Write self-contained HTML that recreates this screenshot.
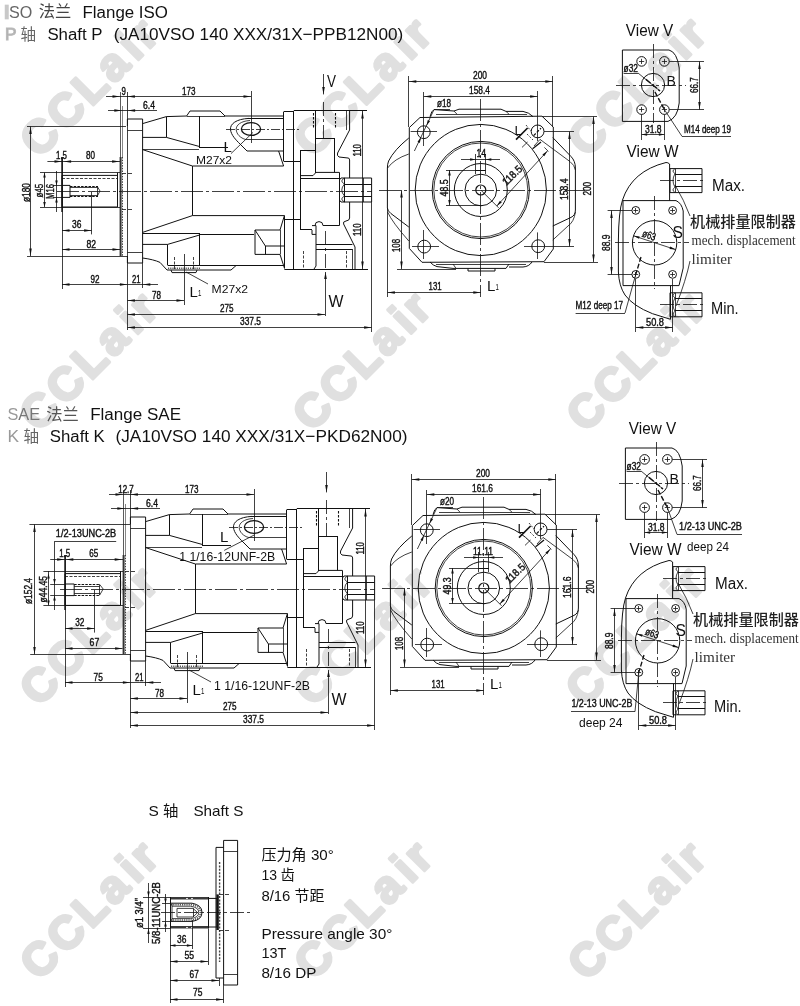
<!DOCTYPE html>
<html lang="zh"><head><meta charset="utf-8"><title>JA10VSO 140 Flange ISO / SAE</title>
<style>
html,body{margin:0;padding:0;background:#fff}
body{width:800px;height:1006px;overflow:hidden;position:relative;font-family:"Liberation Sans","Noto Sans CJK SC",sans-serif}
svg{position:absolute;left:0;top:0;display:block;opacity:.999;will-change:opacity}
text{white-space:pre}
.a{font-family:"Liberation Sans","Noto Sans CJK SC",sans-serif}
.d{font-family:"Liberation Sans","Noto Sans CJK SC",sans-serif;stroke:#111;stroke-width:.4px}
.m{font-family:"Liberation Mono","Noto Sans CJK SC",monospace}
.c{font-family:"Liberation Sans","Noto Sans CJK SC",sans-serif}
.wm{font-family:"Liberation Sans",sans-serif;font-weight:bold;fill:#e0e0e0}
</style></head><body>
<svg width="800" height="1006" viewBox="0 0 800 1006">
<g>
<text class="wm" x="39.0" y="159.2" font-size="46" letter-spacing="3.7" stroke="#e0e0e0" stroke-width="3" stroke-linejoin="round" transform="rotate(-45 39.0 159.2)">CCLa<tspan dx="2.6">ir</tspan></text>
<text class="wm" x="312.4" y="158.8" font-size="46" letter-spacing="3.7" stroke="#e0e0e0" stroke-width="3" stroke-linejoin="round" transform="rotate(-45 312.4 158.8)">CCLa<tspan dx="2.6">ir</tspan></text>
<text class="wm" x="587.1" y="158.4" font-size="46" letter-spacing="3.7" stroke="#e0e0e0" stroke-width="3" stroke-linejoin="round" transform="rotate(-45 587.1 158.4)">CCLa<tspan dx="2.6">ir</tspan></text>
<text class="wm" x="38.6" y="433.2" font-size="46" letter-spacing="3.7" stroke="#e0e0e0" stroke-width="3" stroke-linejoin="round" transform="rotate(-45 38.6 433.2)">CCLa<tspan dx="2.6">ir</tspan></text>
<text class="wm" x="311.7" y="432.9" font-size="46" letter-spacing="3.7" stroke="#e0e0e0" stroke-width="3" stroke-linejoin="round" transform="rotate(-45 311.7 432.9)">CCLa<tspan dx="2.6">ir</tspan></text>
<text class="wm" x="585.4" y="433.7" font-size="46" letter-spacing="3.7" stroke="#e0e0e0" stroke-width="3" stroke-linejoin="round" transform="rotate(-45 585.4 433.7)">CCLa<tspan dx="2.6">ir</tspan></text>
<text class="wm" x="38.7" y="707.7" font-size="46" letter-spacing="3.7" stroke="#e0e0e0" stroke-width="3" stroke-linejoin="round" transform="rotate(-45 38.7 707.7)">CCLa<tspan dx="2.6">ir</tspan></text>
<text class="wm" x="312.9" y="707.7" font-size="46" letter-spacing="3.7" stroke="#e0e0e0" stroke-width="3" stroke-linejoin="round" transform="rotate(-45 312.9 707.7)">CCLa<tspan dx="2.6">ir</tspan></text>
<text class="wm" x="584.8" y="707.7" font-size="46" letter-spacing="3.7" stroke="#e0e0e0" stroke-width="3" stroke-linejoin="round" transform="rotate(-45 584.8 707.7)">CCLa<tspan dx="2.6">ir</tspan></text>
<text class="wm" x="39.1" y="981.8" font-size="46" letter-spacing="3.7" stroke="#e0e0e0" stroke-width="3" stroke-linejoin="round" transform="rotate(-45 39.1 981.8)">CCLa<tspan dx="2.6">ir</tspan></text>
<text class="wm" x="313.3" y="981.8" font-size="46" letter-spacing="3.7" stroke="#e0e0e0" stroke-width="3" stroke-linejoin="round" transform="rotate(-45 313.3 981.8)">CCLa<tspan dx="2.6">ir</tspan></text>
<text class="wm" x="586.8" y="982.3" font-size="46" letter-spacing="3.7" stroke="#e0e0e0" stroke-width="3" stroke-linejoin="round" transform="rotate(-45 586.8 982.3)">CCLa<tspan dx="2.6">ir</tspan></text>
</g>
<text class="a" x="4.60" y="17.60" font-size="17.3" fill="#111" textLength="27.8" lengthAdjust="spacingAndGlyphs"><tspan fill="#b8b8b8" stroke="#c8c8c8" stroke-width="2.6">I</tspan><tspan fill="#666">SO</tspan></text>
<text class="a" x="38.80" y="17.40" font-size="16.4" fill="#444" textLength="32.6" lengthAdjust="spacingAndGlyphs">法兰</text>
<text class="a" x="82.50" y="17.60" font-size="17.3" fill="#111" textLength="85.5" lengthAdjust="spacingAndGlyphs">Flange ISO</text>
<text class="a" x="5" y="40" font-size="17.3" fill="#aaa" stroke="#bbb" stroke-width="1">P</text>
<text class="a" x="20.60" y="40.00" font-size="15.6" fill="#666">轴</text>
<text class="a" x="47.40" y="40.00" font-size="17.3" fill="#111" textLength="55.2" lengthAdjust="spacingAndGlyphs">Shaft P</text>
<text class="a" x="113.80" y="40.00" font-size="17.3" fill="#111" textLength="289.4" lengthAdjust="spacingAndGlyphs">(JA10VSO 140 XXX/31X−PPB12N00)</text>
<text class="a" x="7.40" y="420.00" font-size="17.3" fill="#111" textLength="32.6" lengthAdjust="spacingAndGlyphs"><tspan fill="#999">S</tspan><tspan fill="#777">AE</tspan></text>
<text class="a" x="46.20" y="419.60" font-size="16.4" fill="#555" textLength="32.6" lengthAdjust="spacingAndGlyphs">法兰</text>
<text class="a" x="90.20" y="420.00" font-size="17.3" fill="#111" textLength="90.8" lengthAdjust="spacingAndGlyphs">Flange SAE</text>
<text class="a" x="7.4" y="441.9" font-size="17.3" fill="#999">K</text>
<text class="a" x="23.60" y="441.80" font-size="15.6" fill="#666">轴</text>
<text class="a" x="49.80" y="441.90" font-size="17.3" fill="#111" textLength="55.0" lengthAdjust="spacingAndGlyphs">Shaft K</text>
<text class="a" x="115.50" y="441.90" font-size="17.3" fill="#111" textLength="292.0" lengthAdjust="spacingAndGlyphs">(JA10VSO 140 XXX/31X−PKD62N00)</text>
<g transform="translate(0,0)">
<path d="M127.40 256.00 L127.40 263.00 L142.60 263.00" fill="none" stroke="#111" stroke-width="1.0"/>
<path d="M127.40 126.00 L127.40 119.00 L142.60 119.00 L142.60 263.00" fill="none" stroke="#111" stroke-width="1.0"/>
<line x1="127.50" y1="92.00" x2="127.50" y2="330.00" stroke="#111" stroke-width="0.8"/>
<line x1="127.40" y1="130.50" x2="142.60" y2="130.50" stroke="#111" stroke-width="0.8"/>
<line x1="127.40" y1="252.50" x2="142.60" y2="252.50" stroke="#111" stroke-width="0.8"/>
<line x1="120.60" y1="157.00" x2="120.60" y2="256.00" stroke="#333" stroke-width="2.0"/>
<line x1="122.50" y1="157.00" x2="122.50" y2="256.00" stroke="#111" stroke-width="0.8" stroke-dasharray="1.5 1.2"/>
<line x1="120.50" y1="92.00" x2="120.50" y2="157.00" stroke="#333" stroke-width="0.8"/>
<line x1="122.50" y1="106.00" x2="122.50" y2="157.00" stroke="#555" stroke-width="0.7"/>
<line x1="122.00" y1="173.50" x2="134.00" y2="173.50" stroke="#111" stroke-width="0.8" stroke-dasharray="4 2"/>
<line x1="122.00" y1="209.50" x2="134.00" y2="209.50" stroke="#111" stroke-width="0.8" stroke-dasharray="4 2"/>
<path d="M142.60 123.60 L166.40 116.60 L186.60 116.00 L190.00 111.00 L220.00 111.00 L225.00 116.00 L283.60 116.00" fill="none" stroke="#111" stroke-width="1.0"/>
<line x1="166.50" y1="116.60" x2="166.50" y2="137.40" stroke="#111" stroke-width="1.0"/>
<line x1="186.60" y1="116.50" x2="225.00" y2="116.50" stroke="#111" stroke-width="0.8"/>
<path d="M142.60 137.40 L166.40 137.40 L199.00 146.40" fill="none" stroke="#111" stroke-width="1.0"/>
<line x1="199.50" y1="116.00" x2="199.50" y2="147.00" stroke="#111" stroke-width="1.0"/>
<line x1="199.00" y1="147.50" x2="228.00" y2="147.50" stroke="#111" stroke-width="1.0"/>
<path d="M142.60 149.60 L192.40 166.00 L283.60 166.00" fill="none" stroke="#111" stroke-width="1.0"/>
<line x1="142.60" y1="149.50" x2="199.00" y2="149.50" stroke="#111" stroke-width="0.8"/>
<line x1="192.50" y1="166.00" x2="192.50" y2="215.60" stroke="#111" stroke-width="1.0"/>
<line x1="248.00" y1="118.50" x2="283.60" y2="118.50" stroke="#111" stroke-width="1.0"/>
<ellipse cx="251.00" cy="129.00" rx="9.60" ry="6.40" fill="none" stroke="#111" stroke-width="1.3"/>
<path d="M249 118.4 C236 119.0 230 124.0 230.5 129.5 C231 135.0 236 140.0 240 144.0 L247 151.0 L283.6 151.0" fill="none" stroke="#111" stroke-width="1.0"/>
<path d="M250 120.5 C241 121.0 236 125.0 236.2 129.5 C236.5 134.0 240 138.0 246 139.6" fill="none" stroke="#111" stroke-width="0.8"/>
<line x1="246.00" y1="139.50" x2="283.60" y2="139.50" stroke="#111" stroke-width="0.8"/>
<line x1="226.00" y1="129.50" x2="300.00" y2="129.50" stroke="#111" stroke-width="0.8" stroke-dasharray="9 2 2 2"/>
<line x1="251.50" y1="91.00" x2="251.50" y2="143.00" stroke="#111" stroke-width="0.8"/>
<line x1="278.60" y1="151.00" x2="283.60" y2="166.00" stroke="#111" stroke-width="1.0"/>
<path d="M192.40 215.60 L284.40 215.60" fill="none" stroke="#111" stroke-width="1.0"/>
<line x1="192.40" y1="215.60" x2="142.60" y2="232.40" stroke="#111" stroke-width="1.0"/>
<line x1="142.60" y1="233.50" x2="199.60" y2="233.50" stroke="#111" stroke-width="1.0"/>
<line x1="199.50" y1="233.00" x2="199.50" y2="265.60" stroke="#111" stroke-width="1.0"/>
<line x1="199.60" y1="234.50" x2="254.00" y2="234.50" stroke="#111" stroke-width="1.0"/>
<path d="M199.60 235.00 L167.60 244.40 L142.60 244.40" fill="none" stroke="#111" stroke-width="1.0"/>
<line x1="167.50" y1="244.40" x2="167.50" y2="265.00" stroke="#111" stroke-width="1.0"/>
<path d="M142.6 258.0 C150 259.0 156 260.5 160 262.4 L167 270.0 L231 270.0 L236 265.6" fill="none" stroke="#111" stroke-width="1.0"/>
<line x1="167.60" y1="265.50" x2="284.00" y2="265.50" stroke="#111" stroke-width="1.0"/>
<path d="M171.00 270.00 L172.00 272.60 L196.00 272.60 L197.00 270.00" fill="none" stroke="#111" stroke-width="1.0"/>
<line x1="168.00" y1="268.20" x2="200.00" y2="268.20" stroke="#555" stroke-width="1.6" stroke-dasharray="1.2 1"/>
<line x1="174.50" y1="257.00" x2="174.50" y2="269.00" stroke="#111" stroke-width="0.8" stroke-dasharray="3 1.5"/>
<line x1="193.50" y1="257.00" x2="193.50" y2="269.00" stroke="#111" stroke-width="0.8" stroke-dasharray="3 1.5"/>
<line x1="184.50" y1="254.00" x2="184.50" y2="305.00" stroke="#111" stroke-width="0.8"/>
<path d="M284.40 215.60 L280.00 230.00 L255.00 230.00 L255.00 254.40 L280.00 254.40 L284.40 268.00" fill="none" stroke="#111" stroke-width="1.0"/>
<path d="M255.00 230.00 L265.40 246.00 L284.00 246.00" fill="none" stroke="#111" stroke-width="1.0"/>
<line x1="265.50" y1="246.00" x2="265.50" y2="254.40" stroke="#111" stroke-width="1.0"/>
<line x1="280.50" y1="230.00" x2="280.50" y2="254.40" stroke="#111" stroke-width="0.8"/>
<line x1="284.50" y1="215.60" x2="284.50" y2="268.60" stroke="#111" stroke-width="1.0"/>
<line x1="283.50" y1="112.00" x2="283.50" y2="161.00" stroke="#111" stroke-width="1.0"/>
<line x1="283.60" y1="111.50" x2="293.80" y2="111.50" stroke="#111" stroke-width="1.0"/>
<line x1="283.60" y1="161.50" x2="300.00" y2="161.50" stroke="#111" stroke-width="1.0"/>
<line x1="293.80" y1="110.50" x2="367.00" y2="110.50" stroke="#111" stroke-width="1.0"/>
<line x1="293.50" y1="111.00" x2="293.50" y2="269.00" stroke="#111" stroke-width="1.0"/>
<line x1="284.40" y1="269.50" x2="368.00" y2="269.50" stroke="#111" stroke-width="1.0"/>
<line x1="300.50" y1="150.00" x2="300.50" y2="229.00" stroke="#111" stroke-width="1.0"/>
<line x1="285.00" y1="219.50" x2="300.00" y2="219.50" stroke="#111" stroke-width="1.0"/>
<line x1="300.00" y1="229.50" x2="312.00" y2="229.50" stroke="#111" stroke-width="1.0"/>
<line x1="300.00" y1="150.50" x2="315.60" y2="150.50" stroke="#111" stroke-width="1.0"/>
<line x1="315.50" y1="111.00" x2="315.50" y2="173.00" stroke="#111" stroke-width="1.0"/>
<line x1="315.60" y1="138.50" x2="334.40" y2="138.50" stroke="#111" stroke-width="1.0"/>
<line x1="334.50" y1="138.00" x2="334.50" y2="172.40" stroke="#111" stroke-width="1.0"/>
<path d="M300.00 175.60 L313.00 175.60 L316.00 172.40 L339.40 172.40" fill="none" stroke="#111" stroke-width="1.0"/>
<line x1="300.00" y1="178.50" x2="339.40" y2="178.50" stroke="#111" stroke-width="1.0"/>
<line x1="339.50" y1="172.40" x2="339.50" y2="225.60" stroke="#111" stroke-width="1.0"/>
<line x1="323.00" y1="225.50" x2="339.40" y2="225.50" stroke="#111" stroke-width="1.0"/>
<path d="M315 225.6 A4 4 0 0 1 323 225.6" fill="none" stroke="#111" stroke-width="1.0"/>
<path d="M312.00 225.60 L316.00 225.60 L316.00 266.00 L314.00 269.00" fill="none" stroke="#111" stroke-width="1.0"/>
<path d="M312.00 230.00 L312.00 234.40 L316.00 234.40" fill="none" stroke="#111" stroke-width="1.0"/>
<line x1="316.00" y1="244.50" x2="352.40" y2="244.50" stroke="#111" stroke-width="1.0"/>
<line x1="316.00" y1="249.50" x2="352.40" y2="249.50" stroke="#111" stroke-width="1.0"/>
<line x1="313.50" y1="113.00" x2="313.50" y2="129.00" stroke="#111" stroke-width="1.1" stroke-dasharray="2.5 1.5"/>
<line x1="335.50" y1="113.00" x2="335.50" y2="128.00" stroke="#111" stroke-width="1.1" stroke-dasharray="2.5 1.5"/>
<line x1="303.50" y1="251.00" x2="303.50" y2="269.00" stroke="#111" stroke-width="0.8" stroke-dasharray="3 1.5"/>
<line x1="346.50" y1="251.00" x2="346.50" y2="269.00" stroke="#111" stroke-width="0.8" stroke-dasharray="3 1.5"/>
<line x1="346.50" y1="111.00" x2="346.50" y2="130.00" stroke="#111" stroke-width="0.8"/>
<path d="M349.6 111.0 L349.6 130.0 L337.6 153.0 Q336.6 155.5 339 157.0 L348 158.0 Q349.6 158.0 349.6 160.0 L349.6 178.0" fill="none" stroke="#111" stroke-width="1.0"/>
<path d="M349.6 202.0 L349.6 218.0 Q349.6 220.6 346 221.0 Q342.6 221.6 343.6 224.0 L355 247.0 L355 269.0" fill="none" stroke="#111" stroke-width="1.0"/>
<line x1="352.50" y1="249.00" x2="352.50" y2="269.00" stroke="#111" stroke-width="0.8"/>
<path d="M339.40 180.00 L341.00 178.00 L371.60 178.00 L371.60 202.00 L341.00 202.00 L339.40 200.00" fill="none" stroke="#111" stroke-width="1.0"/>
<line x1="344.00" y1="184.50" x2="371.60" y2="184.50" stroke="#111" stroke-width="1.0"/>
<line x1="344.00" y1="196.50" x2="371.60" y2="196.50" stroke="#111" stroke-width="1.0"/>
<line x1="344.50" y1="178.00" x2="344.50" y2="202.00" stroke="#111" stroke-width="1.0"/>
<line x1="363.50" y1="178.00" x2="363.50" y2="202.00" stroke="#111" stroke-width="0.8"/>
<path d="M344.5 178.0 Q339 181.0 344.5 184.0 Q339 190.0 344.5 196.0 Q339 199.0 344.5 202.0" fill="none" stroke="#111" stroke-width="0.8"/>
<line x1="371.50" y1="202.00" x2="371.50" y2="332.00" stroke="#111" stroke-width="0.8"/>
<line x1="57.00" y1="191.50" x2="372.00" y2="191.50" stroke="#111" stroke-width="0.8" stroke-dasharray="22 3 3 3"/>
<line x1="323.50" y1="74.00" x2="323.50" y2="94.40" stroke="#111" stroke-width="0.8"/>
<path d="M323.50 94.40 L322.20 86.90 L324.80 86.90 Z" fill="#111"/>
<line x1="323.50" y1="102.00" x2="323.50" y2="140.00" stroke="#111" stroke-width="0.8" stroke-dasharray="14 3 3 3"/>
<text class="a" x="327.00" y="86.50" font-size="17" fill="#111" textLength="9.0" lengthAdjust="spacingAndGlyphs">V</text>
<line x1="325.50" y1="272.00" x2="325.50" y2="316.00" stroke="#111" stroke-width="0.8"/>
<path d="M325.50 272.00 L326.80 279.00 L324.20 279.00 Z" fill="#111"/>
<line x1="325.50" y1="231.00" x2="325.50" y2="269.00" stroke="#111" stroke-width="0.8" stroke-dasharray="14 3 3 3"/>
<text class="a" x="328.50" y="306.50" font-size="16" fill="#111" textLength="15.0" lengthAdjust="spacingAndGlyphs">W</text>
<line x1="362.50" y1="111.00" x2="362.50" y2="269.00" stroke="#111" stroke-width="0.8"/>
<path d="M362.50 111.00 L363.75 118.50 L361.25 118.50 Z" fill="#111"/>
<path d="M362.50 269.00 L361.25 261.50 L363.75 261.50 Z" fill="#111"/>
<text class="d" x="360.60" y="156.60" font-size="10.6" fill="#111" textLength="12.5" lengthAdjust="spacingAndGlyphs" transform="rotate(-90 360.60 156.60)">110</text>
<text class="d" x="360.60" y="236.00" font-size="10.6" fill="#111" textLength="12.5" lengthAdjust="spacingAndGlyphs" transform="rotate(-90 360.60 236.00)">110</text>
<line x1="106.00" y1="96.50" x2="251.00" y2="96.50" stroke="#111" stroke-width="0.8"/>
<path d="M120.00 96.50 L112.50 97.75 L112.50 95.25 Z" fill="#111"/>
<path d="M127.40 96.50 L134.90 95.25 L134.90 97.75 Z" fill="#111"/>
<path d="M251.00 96.50 L243.50 97.75 L243.50 95.25 Z" fill="#111"/>
<line x1="108.00" y1="110.50" x2="157.00" y2="110.50" stroke="#111" stroke-width="0.8"/>
<path d="M121.80 110.50 L114.30 111.75 L114.30 109.25 Z" fill="#111"/>
<path d="M127.60 110.50 L135.10 109.25 L135.10 111.75 Z" fill="#111"/>
<text class="d" x="143.00" y="108.60" font-size="10.6" fill="#111" textLength="12.0" lengthAdjust="spacingAndGlyphs">6.4</text>
<text class="d" x="182.00" y="94.60" font-size="10.6" fill="#111" textLength="13.5" lengthAdjust="spacingAndGlyphs">173</text>
<line x1="62.50" y1="157.00" x2="62.50" y2="289.00" stroke="#111" stroke-width="0.8"/>
<line x1="62.00" y1="284.50" x2="127.40" y2="284.50" stroke="#111" stroke-width="0.8"/>
<path d="M62.00 284.50 L69.50 283.25 L69.50 285.75 Z" fill="#111"/>
<path d="M127.40 284.50 L119.90 285.75 L119.90 283.25 Z" fill="#111"/>
<line x1="127.40" y1="284.50" x2="158.00" y2="284.50" stroke="#111" stroke-width="0.8"/>
<path d="M142.80 284.50 L150.30 283.25 L150.30 285.75 Z" fill="#111"/>
<line x1="142.50" y1="263.00" x2="142.50" y2="288.00" stroke="#111" stroke-width="0.8"/>
<text class="d" x="132.00" y="282.60" font-size="10.6" fill="#111" textLength="8.5" lengthAdjust="spacingAndGlyphs">21</text>
<line x1="127.40" y1="300.50" x2="184.00" y2="300.50" stroke="#111" stroke-width="0.8"/>
<path d="M127.40 300.50 L134.90 299.25 L134.90 301.75 Z" fill="#111"/>
<path d="M184.00 300.50 L176.50 301.75 L176.50 299.25 Z" fill="#111"/>
<text class="d" x="152.00" y="299.00" font-size="10.6" fill="#111" textLength="9.0" lengthAdjust="spacingAndGlyphs">78</text>
<line x1="127.40" y1="314.50" x2="325.00" y2="314.50" stroke="#111" stroke-width="0.8"/>
<path d="M127.40 314.50 L134.90 313.25 L134.90 315.75 Z" fill="#111"/>
<path d="M325.00 314.50 L317.50 315.75 L317.50 313.25 Z" fill="#111"/>
<text class="d" x="220.00" y="312.00" font-size="10.6" fill="#111" textLength="13.5" lengthAdjust="spacingAndGlyphs">275</text>
<line x1="127.40" y1="327.50" x2="371.60" y2="327.50" stroke="#111" stroke-width="0.8"/>
<path d="M127.40 327.50 L134.90 326.25 L134.90 328.75 Z" fill="#111"/>
<path d="M371.60 327.50 L364.10 328.75 L364.10 326.25 Z" fill="#111"/>
<text class="d" x="240.00" y="325.40" font-size="10.6" fill="#111" textLength="21.0" lengthAdjust="spacingAndGlyphs">337.5</text>
<line x1="253.00" y1="132.40" x2="231.00" y2="153.60" stroke="#111" stroke-width="0.8"/>
<text class="a" x="223.50" y="152.40" font-size="15" fill="#111">L</text>
<text class="a" x="196.00" y="163.80" font-size="11.5" fill="#111" textLength="36.0" lengthAdjust="spacingAndGlyphs">M27x2</text>
<line x1="186.00" y1="272.00" x2="208.00" y2="284.00" stroke="#111" stroke-width="0.8"/>
<text class="a" x="211.60" y="293.00" font-size="11.5" fill="#111" textLength="36.5" lengthAdjust="spacingAndGlyphs">M27x2</text>
<text class="a" x="189.50" y="297.00" font-size="15" fill="#111">L</text>
<text class="a" x="198.00" y="295.60" font-size="9.5" fill="#111" textLength="3.4" lengthAdjust="spacingAndGlyphs">1</text>
<line x1="62.00" y1="157.00" x2="62.00" y2="212.00" stroke="#111" stroke-width="1.4"/>
<line x1="40.00" y1="172.50" x2="120.00" y2="172.50" stroke="#111" stroke-width="0.8"/>
<path d="M117.40 175.40 L62.00 175.40 L62.00 207.00 L117.40 207.00" fill="none" stroke="#111" stroke-width="1.0"/>
<line x1="117.50" y1="172.60" x2="117.50" y2="207.00" stroke="#111" stroke-width="1.0"/>
<line x1="40.00" y1="207.50" x2="120.00" y2="207.50" stroke="#111" stroke-width="0.8"/>
<line x1="62.00" y1="178.50" x2="117.00" y2="178.50" stroke="#111" stroke-width="0.8" stroke-dasharray="3 1.5"/>
<path d="M62.00 185.40 L70.00 185.40 L70.00 197.40 L62.00 197.40" fill="none" stroke="#111" stroke-width="1.0"/>
<line x1="70.00" y1="186.50" x2="98.00" y2="186.50" stroke="#111" stroke-width="1.0" stroke-dasharray="2.5 1.2"/>
<line x1="70.00" y1="196.50" x2="98.00" y2="196.50" stroke="#111" stroke-width="1.0" stroke-dasharray="2.5 1.2"/>
<line x1="70.00" y1="187.50" x2="97.00" y2="187.50" stroke="#111" stroke-width="0.8"/>
<line x1="70.00" y1="195.50" x2="97.00" y2="195.50" stroke="#111" stroke-width="0.8"/>
<path d="M97.00 186.00 L100.00 191.00 L97.00 196.60" fill="none" stroke="#111" stroke-width="0.8"/>
<line x1="97.50" y1="186.00" x2="97.50" y2="196.60" stroke="#111" stroke-width="0.8"/>
<line x1="30.50" y1="126.40" x2="30.50" y2="256.00" stroke="#111" stroke-width="0.8"/>
<path d="M30.50 126.40 L31.75 133.90 L29.25 133.90 Z" fill="#111"/>
<path d="M30.50 256.00 L29.25 248.50 L31.75 248.50 Z" fill="#111"/>
<line x1="27.00" y1="126.50" x2="126.00" y2="126.50" stroke="#111" stroke-width="0.8"/>
<line x1="27.00" y1="256.50" x2="127.40" y2="256.50" stroke="#111" stroke-width="0.8"/>
<text class="d" x="29.60" y="202.00" font-size="10.6" fill="#111" textLength="19.0" lengthAdjust="spacingAndGlyphs" transform="rotate(-90 29.60 202.00)">ø180</text>
<line x1="44.50" y1="172.60" x2="44.50" y2="207.00" stroke="#111" stroke-width="0.8"/>
<path d="M44.50 172.60 L45.75 177.60 L43.25 177.60 Z" fill="#111"/>
<path d="M44.50 207.00 L43.25 202.00 L45.75 202.00 Z" fill="#111"/>
<text class="d" x="43.00" y="197.40" font-size="10.6" fill="#111" textLength="13.5" lengthAdjust="spacingAndGlyphs" transform="rotate(-90 43.00 197.40)">ø45</text>
<line x1="56.50" y1="171.00" x2="56.50" y2="212.00" stroke="#111" stroke-width="0.8"/>
<path d="M56.50 185.40 L55.25 180.40 L57.75 180.40 Z" fill="#111"/>
<path d="M56.50 197.40 L57.75 202.40 L55.25 202.40 Z" fill="#111"/>
<line x1="53.00" y1="185.50" x2="62.00" y2="185.50" stroke="#111" stroke-width="0.8"/>
<line x1="53.00" y1="197.50" x2="62.00" y2="197.50" stroke="#111" stroke-width="0.8"/>
<text class="d" x="54.40" y="199.00" font-size="10.6" fill="#111" textLength="15.0" lengthAdjust="spacingAndGlyphs" transform="rotate(-90 54.40 199.00)">M16</text>
<line x1="47.40" y1="161.50" x2="120.00" y2="161.50" stroke="#111" stroke-width="0.8"/>
<path d="M62.00 161.50 L54.50 162.75 L54.50 160.25 Z" fill="#111"/>
<path d="M63.60 161.50 L71.10 160.25 L71.10 162.75 Z" fill="#111"/>
<path d="M119.60 161.50 L112.10 162.75 L112.10 160.25 Z" fill="#111"/>
<text class="d" x="56.00" y="158.60" font-size="10.6" fill="#111" textLength="11.0" lengthAdjust="spacingAndGlyphs">1.5</text>
<text class="d" x="86.00" y="158.60" font-size="10.6" fill="#111" textLength="9.0" lengthAdjust="spacingAndGlyphs">80</text>
<line x1="62.00" y1="230.50" x2="91.60" y2="230.50" stroke="#111" stroke-width="0.8"/>
<path d="M62.00 230.50 L69.50 229.25 L69.50 231.75 Z" fill="#111"/>
<path d="M91.60 230.50 L84.10 231.75 L84.10 229.25 Z" fill="#111"/>
<line x1="91.50" y1="192.00" x2="91.50" y2="234.40" stroke="#111" stroke-width="0.8"/>
<text class="d" x="72.00" y="228.20" font-size="10.6" fill="#111" textLength="9.4" lengthAdjust="spacingAndGlyphs">36</text>
<line x1="62.00" y1="249.50" x2="120.00" y2="249.50" stroke="#111" stroke-width="0.8"/>
<path d="M62.00 249.50 L69.50 248.25 L69.50 250.75 Z" fill="#111"/>
<path d="M120.00 249.50 L112.50 250.75 L112.50 248.25 Z" fill="#111"/>
<text class="d" x="86.40" y="247.80" font-size="10.6" fill="#111" textLength="9.6" lengthAdjust="spacingAndGlyphs">82</text>
<text class="d" x="90.40" y="282.60" font-size="10.6" fill="#111" textLength="9.0" lengthAdjust="spacingAndGlyphs">92</text>
<text class="d" x="121.60" y="94.60" font-size="10.6" fill="#111" textLength="4.4" lengthAdjust="spacingAndGlyphs">9</text>
</g>
<g transform="translate(0,0)">
<line x1="379.00" y1="190.50" x2="585.00" y2="190.50" stroke="#111" stroke-width="0.8" stroke-dasharray="22 3 3 3"/>
<line x1="480.50" y1="99.00" x2="480.50" y2="297.00" stroke="#111" stroke-width="0.8" stroke-dasharray="22 3 3 3"/>
<circle cx="480.80" cy="190.00" r="65.60" fill="none" stroke="#111" stroke-width="1.0"/>
<circle cx="480.80" cy="190.00" r="48.60" fill="none" stroke="#111" stroke-width="1.0"/>
<circle cx="480.80" cy="190.00" r="47.00" fill="none" stroke="#111" stroke-width="0.8"/>
<circle cx="480.80" cy="190.00" r="26.50" fill="none" stroke="#111" stroke-width="1.0"/>
<circle cx="480.80" cy="190.00" r="15.80" fill="none" stroke="#111" stroke-width="1.0"/>
<circle cx="480.80" cy="190.00" r="5.00" fill="none" stroke="#111" stroke-width="1.2"/>
<line x1="475.50" y1="154.00" x2="475.50" y2="174.00" stroke="#111" stroke-width="0.8"/>
<line x1="485.50" y1="154.00" x2="485.50" y2="174.00" stroke="#111" stroke-width="0.8"/>
<line x1="475.60" y1="170.50" x2="485.80" y2="170.50" stroke="#111" stroke-width="1.0"/>
<line x1="461.00" y1="159.50" x2="500.00" y2="159.50" stroke="#111" stroke-width="0.8"/>
<path d="M475.60 159.50 L470.10 160.75 L470.10 158.25 Z" fill="#111"/>
<path d="M485.80 159.50 L491.30 158.25 L491.30 160.75 Z" fill="#111"/>
<path d="M409.30 127.60 L420.00 117.50 L542.00 116.20 L553.30 127.00 L553.30 249.00 L544.00 261.70 L422.00 262.30 L409.30 248.40 Z" fill="none" stroke="#111" stroke-width="1.0"/>
<circle cx="423.80" cy="132.20" r="6.40" fill="none" stroke="#111" stroke-width="1.0"/>
<circle cx="537.60" cy="131.40" r="6.40" fill="none" stroke="#111" stroke-width="1.0"/>
<circle cx="424.20" cy="246.60" r="6.40" fill="none" stroke="#111" stroke-width="1.0"/>
<circle cx="538.20" cy="246.20" r="6.40" fill="none" stroke="#111" stroke-width="1.0"/>
<line x1="533.60" y1="135.60" x2="541.00" y2="128.20" stroke="#111" stroke-width="1.2" stroke-dasharray="3 1.5"/>
<line x1="410.60" y1="131.50" x2="437.00" y2="131.50" stroke="#111" stroke-width="0.8"/>
<line x1="412.00" y1="246.50" x2="439.00" y2="246.50" stroke="#111" stroke-width="0.8"/>
<line x1="423.50" y1="230.00" x2="423.50" y2="259.00" stroke="#111" stroke-width="0.8"/>
<line x1="537.50" y1="232.40" x2="537.50" y2="259.00" stroke="#111" stroke-width="0.8"/>
<line x1="524.00" y1="246.50" x2="574.00" y2="246.50" stroke="#111" stroke-width="0.8"/>
<line x1="544.00" y1="131.50" x2="574.00" y2="131.50" stroke="#111" stroke-width="0.8"/>
<path d="M430 116.6 Q431.5 110.6 434 109.6 L454 111.0 L459 109.2 L501 109.2 L506 111.4 L523 111.4 Q529 112.4 533 116.6" fill="none" stroke="#111" stroke-width="1.0"/>
<line x1="436.00" y1="114.50" x2="527.00" y2="114.50" stroke="#111" stroke-width="0.8"/>
<line x1="454.00" y1="111.00" x2="457.00" y2="114.20" stroke="#111" stroke-width="0.8"/>
<line x1="506.00" y1="111.40" x2="509.00" y2="114.20" stroke="#111" stroke-width="0.8"/>
<path d="M430 262.0 Q433 265.6 437 266.6 L453 268.4 L506 268.4 L509 264.0" fill="none" stroke="#111" stroke-width="1.0"/>
<path d="M532 262.0 Q529 266.6 523 267.0 L509 267.0" fill="none" stroke="#111" stroke-width="1.0"/>
<line x1="436.00" y1="264.50" x2="526.00" y2="264.50" stroke="#111" stroke-width="0.8"/>
<line x1="453.00" y1="264.00" x2="456.00" y2="268.40" stroke="#111" stroke-width="0.8"/>
<path d="M468.00 268.40 L468.00 271.00 L495.00 271.00 L495.00 268.40" fill="none" stroke="#111" stroke-width="1.0"/>
<path d="M408.8 138.0 Q394 150.0 388.6 161.0 Q387.4 164.0 387.4 168.0 L387.4 208.0 Q387.6 211.0 391 213.6 L408.8 227.0" fill="none" stroke="#111" stroke-width="1.0"/>
<path d="M408.8 154.0 Q394 159.0 387.6 168.0" fill="none" stroke="#111" stroke-width="0.8"/>
<path d="M387.6 212.0 Q392 222.0 408.8 241.0" fill="none" stroke="#111" stroke-width="0.8"/>
<line x1="387.50" y1="208.00" x2="387.50" y2="297.00" stroke="#111" stroke-width="0.8"/>
<path d="M552.8 137.6 L571 156.5 Q575.4 161.0 575.4 168.0 L575.4 210.0 Q575.4 215.4 571 217.4 L552.8 226.0" fill="none" stroke="#111" stroke-width="1.0"/>
<path d="M540 139.4 L570 161.6 Q574.6 165.0 575.4 170.0" fill="none" stroke="#111" stroke-width="0.8"/>
<path d="M575.4 212.0 Q574 222.0 568 226.0 L552.8 240.0" fill="none" stroke="#111" stroke-width="0.8"/>
<line x1="408.50" y1="76.00" x2="408.50" y2="127.00" stroke="#111" stroke-width="0.8"/>
<line x1="552.50" y1="76.00" x2="552.50" y2="127.00" stroke="#111" stroke-width="0.8"/>
<line x1="408.80" y1="81.50" x2="552.80" y2="81.50" stroke="#111" stroke-width="0.8"/>
<path d="M408.80 81.50 L416.30 80.25 L416.30 82.75 Z" fill="#111"/>
<path d="M552.80 81.50 L545.30 82.75 L545.30 80.25 Z" fill="#111"/>
<line x1="423.50" y1="92.00" x2="423.50" y2="146.00" stroke="#111" stroke-width="0.8"/>
<line x1="537.50" y1="91.00" x2="537.50" y2="141.00" stroke="#111" stroke-width="0.8"/>
<line x1="423.80" y1="96.50" x2="537.60" y2="96.50" stroke="#111" stroke-width="0.8"/>
<path d="M423.80 96.50 L431.30 95.25 L431.30 97.75 Z" fill="#111"/>
<path d="M537.60 96.50 L530.10 97.75 L530.10 95.25 Z" fill="#111"/>
<text class="d" x="473.00" y="78.60" font-size="10.6" fill="#111" textLength="14.0" lengthAdjust="spacingAndGlyphs">200</text>
<text class="d" x="469.00" y="93.80" font-size="10.6" fill="#111" textLength="21.0" lengthAdjust="spacingAndGlyphs">158.4</text>
<line x1="434.00" y1="109.50" x2="450.00" y2="109.50" stroke="#111" stroke-width="0.8"/>
<line x1="434.00" y1="109.60" x2="414.40" y2="151.00" stroke="#111" stroke-width="0.8"/>
<path d="M426.60 125.60 L427.79 120.09 L430.06 121.14 Z" fill="#111"/>
<path d="M421.00 137.40 L419.81 142.91 L417.54 141.86 Z" fill="#111"/>
<text class="d" x="437.00" y="107.20" font-size="10.6" fill="#111" textLength="14.0" lengthAdjust="spacingAndGlyphs">ø18</text>
<line x1="542.00" y1="116.50" x2="597.00" y2="116.50" stroke="#111" stroke-width="0.8"/>
<line x1="544.00" y1="262.50" x2="598.00" y2="262.50" stroke="#111" stroke-width="0.8"/>
<line x1="569.50" y1="131.60" x2="569.50" y2="246.40" stroke="#111" stroke-width="0.8"/>
<path d="M569.50 131.60 L570.75 139.10 L568.25 139.10 Z" fill="#111"/>
<path d="M569.50 246.40 L568.25 238.90 L570.75 238.90 Z" fill="#111"/>
<line x1="593.50" y1="116.60" x2="593.50" y2="262.00" stroke="#111" stroke-width="0.8"/>
<path d="M593.50 116.60 L594.75 124.10 L592.25 124.10 Z" fill="#111"/>
<path d="M593.50 262.00 L592.25 254.50 L594.75 254.50 Z" fill="#111"/>
<text class="d" x="567.60" y="200.00" font-size="10.6" fill="#111" textLength="21.5" lengthAdjust="spacingAndGlyphs" transform="rotate(-90 567.60 200.00)">158.4</text>
<text class="d" x="591.00" y="195.60" font-size="10.6" fill="#111" textLength="13.8" lengthAdjust="spacingAndGlyphs" transform="rotate(-90 591.00 195.60)">200</text>
<line x1="401.50" y1="190.00" x2="401.50" y2="269.00" stroke="#111" stroke-width="0.8"/>
<path d="M401.50 190.00 L402.75 197.50 L400.25 197.50 Z" fill="#111"/>
<path d="M401.50 269.00 L400.25 261.50 L402.75 261.50 Z" fill="#111"/>
<line x1="397.00" y1="269.50" x2="456.00" y2="269.50" stroke="#111" stroke-width="0.8"/>
<text class="d" x="399.60" y="252.00" font-size="10.6" fill="#111" textLength="13.0" lengthAdjust="spacingAndGlyphs" transform="rotate(-90 399.60 252.00)">108</text>
<line x1="387.40" y1="292.50" x2="480.80" y2="292.50" stroke="#111" stroke-width="0.8"/>
<path d="M387.40 292.50 L394.90 291.25 L394.90 293.75 Z" fill="#111"/>
<path d="M480.80 292.50 L473.30 293.75 L473.30 291.25 Z" fill="#111"/>
<text class="d" x="428.60" y="290.20" font-size="10.6" fill="#111" textLength="13.0" lengthAdjust="spacingAndGlyphs">131</text>
<text class="a" x="487.00" y="291.00" font-size="15" fill="#111">L</text>
<text class="a" x="495.60" y="289.60" font-size="9.5" fill="#111" textLength="3.4" lengthAdjust="spacingAndGlyphs">1</text>
<line x1="446.00" y1="170.50" x2="476.00" y2="170.50" stroke="#111" stroke-width="0.8"/>
<line x1="446.00" y1="205.50" x2="482.00" y2="205.50" stroke="#111" stroke-width="0.8"/>
<line x1="449.50" y1="170.00" x2="449.50" y2="205.60" stroke="#111" stroke-width="0.8"/>
<path d="M449.50 170.00 L450.75 175.50 L448.25 175.50 Z" fill="#111"/>
<path d="M449.50 205.60 L448.25 200.10 L450.75 200.10 Z" fill="#111"/>
<text class="d" x="448.00" y="196.40" font-size="10.6" fill="#111" textLength="17.0" lengthAdjust="spacingAndGlyphs" transform="rotate(-90 448.00 196.40)">48.5</text>
<text class="d" x="476.40" y="157.00" font-size="10.6" fill="#111" textLength="9.6" lengthAdjust="spacingAndGlyphs">14</text>
<line x1="480.80" y1="190.00" x2="498.60" y2="207.80" stroke="#111" stroke-width="0.8"/>
<line x1="496.80" y1="206.00" x2="547.40" y2="151.00" stroke="#111" stroke-width="0.8"/>
<path d="M496.80 206.00 L499.94 200.74 L501.78 202.43 Z" fill="#111"/>
<path d="M547.40 151.00 L544.26 156.26 L542.42 154.57 Z" fill="#111"/>
<line x1="544.40" y1="147.40" x2="548.40" y2="151.40" stroke="#111" stroke-width="0.8"/>
<text class="d" x="506.60" y="186.00" font-size="10.6" fill="#111" textLength="23.0" lengthAdjust="spacingAndGlyphs" transform="rotate(-45 506.60 186.00)">118.5</text>
<line x1="516.00" y1="139.60" x2="527.60" y2="128.00" stroke="#111" stroke-width="1.6"/>
<line x1="532.60" y1="148.80" x2="541.00" y2="142.00" stroke="#111" stroke-width="1.3"/>
<line x1="522.00" y1="147.40" x2="527.60" y2="142.00" stroke="#111" stroke-width="0.8"/>
<line x1="540.00" y1="139.40" x2="534.00" y2="146.00" stroke="#111" stroke-width="0.8"/>
<line x1="526.00" y1="125.00" x2="531.00" y2="131.00" stroke="#111" stroke-width="0.8" stroke-dasharray="2 1.5"/>
<line x1="527.00" y1="134.00" x2="533.00" y2="140.00" stroke="#111" stroke-width="0.8" stroke-dasharray="2 1.5"/>
<text class="a" x="514.60" y="134.60" font-size="13.5" fill="#111">L</text>
</g>
<g transform="translate(0,0)">
<text class="a" x="625.80" y="36.40" font-size="15.6" fill="#111" textLength="47.4" lengthAdjust="spacingAndGlyphs">View V</text>
<path d="M622.4 50.0 L669 50.0 Q677 52.0 679.2 68.0 L679.2 103.0 Q677.6 118.0 668 121.4 L622.4 121.4 Z" fill="none" stroke="#111" stroke-width="1.0"/>
<circle cx="653.00" cy="85.00" r="11.60" fill="none" stroke="#111" stroke-width="1.0"/>
<line x1="653.50" y1="44.00" x2="653.50" y2="123.00" stroke="#111" stroke-width="0.8" stroke-dasharray="14 3 3 3"/>
<line x1="616.00" y1="85.50" x2="686.00" y2="85.50" stroke="#111" stroke-width="0.8" stroke-dasharray="14 3 3 3"/>
<circle cx="641.60" cy="61.40" r="4.80" fill="none" stroke="#111" stroke-width="1.0"/>
<line x1="639.00" y1="61.50" x2="644.20" y2="61.50" stroke="#111" stroke-width="0.8"/>
<line x1="641.50" y1="58.80" x2="641.50" y2="64.00" stroke="#111" stroke-width="0.8"/>
<circle cx="641.60" cy="109.60" r="4.80" fill="none" stroke="#111" stroke-width="1.0"/>
<line x1="639.00" y1="109.50" x2="644.20" y2="109.50" stroke="#111" stroke-width="0.8"/>
<line x1="641.50" y1="107.00" x2="641.50" y2="112.20" stroke="#111" stroke-width="0.8"/>
<circle cx="664.40" cy="61.40" r="4.80" fill="none" stroke="#111" stroke-width="1.0"/>
<line x1="661.80" y1="61.50" x2="667.00" y2="61.50" stroke="#111" stroke-width="0.8"/>
<line x1="664.50" y1="58.80" x2="664.50" y2="64.00" stroke="#111" stroke-width="0.8"/>
<circle cx="664.40" cy="109.60" r="4.80" fill="none" stroke="#111" stroke-width="1.0"/>
<line x1="661.80" y1="109.50" x2="667.00" y2="109.50" stroke="#111" stroke-width="0.8"/>
<line x1="664.50" y1="107.00" x2="664.50" y2="112.20" stroke="#111" stroke-width="0.8"/>
<text class="d" x="623.60" y="71.60" font-size="10.6" fill="#111" textLength="14.4" lengthAdjust="spacingAndGlyphs">ø32</text>
<line x1="623.60" y1="73.50" x2="638.00" y2="73.50" stroke="#111" stroke-width="0.8"/>
<line x1="638.00" y1="73.00" x2="660.00" y2="91.00" stroke="#111" stroke-width="0.8"/>
<line x1="646.00" y1="79.40" x2="660.00" y2="91.00" stroke="#111" stroke-width="1.4" stroke-dasharray="6 2"/>
<text class="a" x="666.60" y="86.00" font-size="14" fill="#111">B</text>
<line x1="669.20" y1="61.50" x2="704.00" y2="61.50" stroke="#111" stroke-width="0.8"/>
<line x1="669.20" y1="109.50" x2="704.00" y2="109.50" stroke="#111" stroke-width="0.8"/>
<line x1="699.50" y1="61.40" x2="699.50" y2="109.60" stroke="#111" stroke-width="0.8"/>
<path d="M699.50 61.40 L700.75 68.90 L698.25 68.90 Z" fill="#111"/>
<path d="M699.50 109.60 L698.25 102.10 L700.75 102.10 Z" fill="#111"/>
<text class="d" x="697.60" y="93.00" font-size="10.6" fill="#111" textLength="15.6" lengthAdjust="spacingAndGlyphs" transform="rotate(-90 697.60 93.00)">66.7</text>
<line x1="641.50" y1="114.40" x2="641.50" y2="140.00" stroke="#111" stroke-width="0.8"/>
<line x1="664.50" y1="114.40" x2="664.50" y2="140.00" stroke="#111" stroke-width="0.8"/>
<line x1="641.60" y1="134.50" x2="664.40" y2="134.50" stroke="#111" stroke-width="0.8"/>
<path d="M641.60 134.50 L647.10 133.25 L647.10 135.75 Z" fill="#111"/>
<path d="M664.40 134.50 L658.90 135.75 L658.90 133.25 Z" fill="#111"/>
<text class="d" x="645.00" y="133.00" font-size="10.6" fill="#111" textLength="16.6" lengthAdjust="spacingAndGlyphs">31.8</text>
<line x1="655.00" y1="92.00" x2="664.40" y2="109.60" stroke="#111" stroke-width="1.4" stroke-dasharray="5 2"/>
<line x1="664.40" y1="109.60" x2="682.00" y2="136.40" stroke="#111" stroke-width="0.8"/>
<line x1="682.00" y1="136.50" x2="731.00" y2="136.50" stroke="#111" stroke-width="0.8"/>
<text class="d" x="684.00" y="133.00" font-size="10.6" fill="#111" textLength="47.0" lengthAdjust="spacingAndGlyphs">M14 deep 19</text>
</g>
<g transform="translate(0,0)">
<text class="a" x="626.60" y="157.20" font-size="15.6" fill="#111" textLength="52.0" lengthAdjust="spacingAndGlyphs">View W</text>
<path d="M669.6 200.6 L669.6 164.0 Q668 162.4 666 162.5 Q632 171.0 622.5 200.0 Q618.6 212.0 618.4 240.0 L618.4 272.0 Q619 286.0 625 295.0 Q633 306.0 652.5 313.7 L670.5 319.3" fill="none" stroke="#111" stroke-width="1.0"/>
<line x1="670.50" y1="285.60" x2="670.50" y2="319.30" stroke="#111" stroke-width="1.0"/>
<path d="M623 200.6 L676 200.6 Q681.6 203.0 683.2 211.0 L683.2 268.0 L679 285.6 L623 285.6 Z" fill="none" stroke="#111" stroke-width="1.0"/>
<circle cx="654.60" cy="242.80" r="22.20" fill="none" stroke="#111" stroke-width="1.0"/>
<line x1="654.50" y1="196.00" x2="654.50" y2="289.00" stroke="#111" stroke-width="0.8" stroke-dasharray="14 3 3 3"/>
<line x1="615.00" y1="242.50" x2="689.00" y2="242.50" stroke="#111" stroke-width="0.8" stroke-dasharray="14 3 3 3"/>
<circle cx="635.80" cy="210.40" r="3.90" fill="none" stroke="#111" stroke-width="1.0"/>
<line x1="633.40" y1="210.50" x2="638.20" y2="210.50" stroke="#111" stroke-width="0.8"/>
<line x1="635.50" y1="208.00" x2="635.50" y2="212.80" stroke="#111" stroke-width="0.8"/>
<circle cx="635.80" cy="274.40" r="3.90" fill="none" stroke="#111" stroke-width="1.0"/>
<line x1="633.40" y1="274.50" x2="638.20" y2="274.50" stroke="#111" stroke-width="0.8"/>
<line x1="635.50" y1="272.00" x2="635.50" y2="276.80" stroke="#111" stroke-width="0.8"/>
<circle cx="672.60" cy="210.40" r="3.90" fill="none" stroke="#111" stroke-width="1.0"/>
<line x1="670.20" y1="210.50" x2="675.00" y2="210.50" stroke="#111" stroke-width="0.8"/>
<line x1="672.50" y1="208.00" x2="672.50" y2="212.80" stroke="#111" stroke-width="0.8"/>
<circle cx="672.60" cy="274.40" r="3.90" fill="none" stroke="#111" stroke-width="1.0"/>
<line x1="670.20" y1="274.50" x2="675.00" y2="274.50" stroke="#111" stroke-width="0.8"/>
<line x1="672.50" y1="272.00" x2="672.50" y2="276.80" stroke="#111" stroke-width="0.8"/>
<line x1="633.60" y1="235.80" x2="675.60" y2="249.60" stroke="#111" stroke-width="0.8"/>
<path d="M633.60 235.80 L639.69 236.49 L638.91 238.86 Z" fill="#111"/>
<path d="M675.60 249.60 L669.51 248.91 L670.29 246.54 Z" fill="#111"/>
<text class="d" x="641.60" y="236.60" font-size="10.6" fill="#111" textLength="13.6" lengthAdjust="spacingAndGlyphs" transform="rotate(18 641.60 236.60)">ø63</text>
<text class="a" x="672.60" y="238.20" font-size="15.6" fill="#111">S</text>
<line x1="607.60" y1="210.50" x2="632.00" y2="210.50" stroke="#111" stroke-width="0.8"/>
<line x1="607.60" y1="274.50" x2="632.00" y2="274.50" stroke="#111" stroke-width="0.8"/>
<line x1="611.50" y1="210.40" x2="611.50" y2="274.40" stroke="#111" stroke-width="0.8"/>
<path d="M611.50 210.40 L612.75 217.90 L610.25 217.90 Z" fill="#111"/>
<path d="M611.50 274.40 L610.25 266.90 L612.75 266.90 Z" fill="#111"/>
<text class="d" x="610.00" y="251.00" font-size="10.6" fill="#111" textLength="16.4" lengthAdjust="spacingAndGlyphs" transform="rotate(-90 610.00 251.00)">88.9</text>
<line x1="635.50" y1="279.00" x2="635.50" y2="332.00" stroke="#111" stroke-width="0.8"/>
<line x1="672.50" y1="279.00" x2="672.50" y2="332.00" stroke="#111" stroke-width="0.8"/>
<line x1="635.80" y1="327.50" x2="672.60" y2="327.50" stroke="#111" stroke-width="0.8"/>
<path d="M635.80 327.50 L643.30 326.25 L643.30 328.75 Z" fill="#111"/>
<path d="M672.60 327.50 L665.10 328.75 L665.10 326.25 Z" fill="#111"/>
<text class="d" x="646.00" y="325.60" font-size="10.6" fill="#111" textLength="18.0" lengthAdjust="spacingAndGlyphs">50.8</text>
<line x1="641.00" y1="257.00" x2="635.80" y2="274.40" stroke="#111" stroke-width="1.3" stroke-dasharray="5 2"/>
<line x1="635.80" y1="274.40" x2="625.00" y2="313.00" stroke="#111" stroke-width="0.8"/>
<line x1="575.60" y1="313.50" x2="625.00" y2="313.50" stroke="#111" stroke-width="0.8"/>
<text class="d" x="575.60" y="309.40" font-size="10.6" fill="#111" textLength="47.4" lengthAdjust="spacingAndGlyphs">M12 deep 17</text>
<path d="M670.00 168.60 L702.00 168.60 L702.00 192.60 L670.00 192.60 Z" fill="none" stroke="#111" stroke-width="1.0"/>
<line x1="675.00" y1="174.50" x2="702.00" y2="174.50" stroke="#111" stroke-width="1.0"/>
<line x1="675.00" y1="186.50" x2="702.00" y2="186.50" stroke="#111" stroke-width="1.0"/>
<line x1="675.50" y1="168.60" x2="675.50" y2="192.60" stroke="#111" stroke-width="0.8"/>
<path d="M675 168.6 Q671 171.1 675 173.6 Q671 180.6 675 187.2 Q671 189.9 675 192.6" fill="none" stroke="#111" stroke-width="0.8"/>
<line x1="660.00" y1="180.50" x2="704.00" y2="180.50" stroke="#111" stroke-width="0.8" stroke-dasharray="14 3 3 3"/>
<path d="M670.00 292.80 L702.00 292.80 L702.00 316.80 L670.00 316.80 Z" fill="none" stroke="#111" stroke-width="1.0"/>
<line x1="675.00" y1="298.50" x2="702.00" y2="298.50" stroke="#111" stroke-width="1.0"/>
<line x1="675.00" y1="310.50" x2="702.00" y2="310.50" stroke="#111" stroke-width="1.0"/>
<line x1="675.50" y1="292.80" x2="675.50" y2="316.80" stroke="#111" stroke-width="0.8"/>
<path d="M675 292.8 Q671 295.3 675 297.8 Q671 304.8 675 311.4 Q671 314.1 675 316.8" fill="none" stroke="#111" stroke-width="0.8"/>
<line x1="660.00" y1="304.50" x2="704.00" y2="304.50" stroke="#111" stroke-width="0.8" stroke-dasharray="14 3 3 3"/>
<path d="M675 185.0 Q684 200.0 690 216.0" fill="none" stroke="#111" stroke-width="0.8"/>
<path d="M676 306.0 Q686 280.0 690 261.0" fill="none" stroke="#111" stroke-width="0.8"/>
<text class="a" x="712.00" y="190.60" font-size="16" fill="#111" textLength="33.0" lengthAdjust="spacingAndGlyphs">Max.</text>
<text class="a" x="711.00" y="314.00" font-size="16" fill="#111" textLength="27.6" lengthAdjust="spacingAndGlyphs">Min.</text>
<text class="c" x="690.00" y="227.40" font-size="14.6" fill="#222" textLength="106.0" lengthAdjust="spacingAndGlyphs" font-weight="500">机械排量限制器</text>
<text x="691.6" y="244.8" font-size="15" textLength="104" lengthAdjust="spacingAndGlyphs" fill="#333" style="font-family:'Liberation Serif',serif">mech. displacement</text>
<text x="691.6" y="263.6" font-size="15" textLength="40.6" lengthAdjust="spacingAndGlyphs" fill="#333" style="font-family:'Liberation Serif',serif">limiter</text>
</g>
<g transform="translate(3,398)">
<path d="M127.40 256.00 L127.40 263.00 L142.60 263.00" fill="none" stroke="#111" stroke-width="1.0"/>
<path d="M127.40 126.00 L127.40 119.00 L142.60 119.00 L142.60 263.00" fill="none" stroke="#111" stroke-width="1.0"/>
<line x1="127.50" y1="92.00" x2="127.50" y2="330.00" stroke="#111" stroke-width="0.8"/>
<line x1="127.40" y1="130.50" x2="142.60" y2="130.50" stroke="#111" stroke-width="0.8"/>
<line x1="127.40" y1="252.50" x2="142.60" y2="252.50" stroke="#111" stroke-width="0.8"/>
<line x1="120.60" y1="157.00" x2="120.60" y2="256.00" stroke="#333" stroke-width="2.0"/>
<line x1="122.50" y1="157.00" x2="122.50" y2="256.00" stroke="#111" stroke-width="0.8" stroke-dasharray="1.5 1.2"/>
<line x1="120.50" y1="92.00" x2="120.50" y2="157.00" stroke="#333" stroke-width="0.8"/>
<line x1="122.50" y1="106.00" x2="122.50" y2="157.00" stroke="#555" stroke-width="0.7"/>
<line x1="122.00" y1="173.50" x2="134.00" y2="173.50" stroke="#111" stroke-width="0.8" stroke-dasharray="4 2"/>
<line x1="122.00" y1="209.50" x2="134.00" y2="209.50" stroke="#111" stroke-width="0.8" stroke-dasharray="4 2"/>
<path d="M142.60 123.60 L166.40 116.60 L186.60 116.00 L190.00 111.00 L220.00 111.00 L225.00 116.00 L283.60 116.00" fill="none" stroke="#111" stroke-width="1.0"/>
<line x1="166.50" y1="116.60" x2="166.50" y2="137.40" stroke="#111" stroke-width="1.0"/>
<line x1="186.60" y1="116.50" x2="225.00" y2="116.50" stroke="#111" stroke-width="0.8"/>
<path d="M142.60 137.40 L166.40 137.40 L199.00 146.40" fill="none" stroke="#111" stroke-width="1.0"/>
<line x1="199.50" y1="116.00" x2="199.50" y2="147.00" stroke="#111" stroke-width="1.0"/>
<line x1="199.00" y1="147.50" x2="228.00" y2="147.50" stroke="#111" stroke-width="1.0"/>
<path d="M142.60 149.60 L192.40 166.00 L283.60 166.00" fill="none" stroke="#111" stroke-width="1.0"/>
<line x1="142.60" y1="149.50" x2="199.00" y2="149.50" stroke="#111" stroke-width="0.8"/>
<line x1="192.50" y1="166.00" x2="192.50" y2="215.60" stroke="#111" stroke-width="1.0"/>
<line x1="248.00" y1="118.50" x2="283.60" y2="118.50" stroke="#111" stroke-width="1.0"/>
<ellipse cx="251.00" cy="129.00" rx="9.60" ry="6.40" fill="none" stroke="#111" stroke-width="1.3"/>
<path d="M249 118.4 C236 119.0 230 124.0 230.5 129.5 C231 135.0 236 140.0 240 144.0 L247 151.0 L283.6 151.0" fill="none" stroke="#111" stroke-width="1.0"/>
<path d="M250 120.5 C241 121.0 236 125.0 236.2 129.5 C236.5 134.0 240 138.0 246 139.6" fill="none" stroke="#111" stroke-width="0.8"/>
<line x1="246.00" y1="139.50" x2="283.60" y2="139.50" stroke="#111" stroke-width="0.8"/>
<line x1="226.00" y1="129.50" x2="300.00" y2="129.50" stroke="#111" stroke-width="0.8" stroke-dasharray="9 2 2 2"/>
<line x1="251.50" y1="91.00" x2="251.50" y2="143.00" stroke="#111" stroke-width="0.8"/>
<line x1="278.60" y1="151.00" x2="283.60" y2="166.00" stroke="#111" stroke-width="1.0"/>
<path d="M192.40 215.60 L284.40 215.60" fill="none" stroke="#111" stroke-width="1.0"/>
<line x1="192.40" y1="215.60" x2="142.60" y2="232.40" stroke="#111" stroke-width="1.0"/>
<line x1="142.60" y1="233.50" x2="199.60" y2="233.50" stroke="#111" stroke-width="1.0"/>
<line x1="199.50" y1="233.00" x2="199.50" y2="265.60" stroke="#111" stroke-width="1.0"/>
<line x1="199.60" y1="234.50" x2="254.00" y2="234.50" stroke="#111" stroke-width="1.0"/>
<path d="M199.60 235.00 L167.60 244.40 L142.60 244.40" fill="none" stroke="#111" stroke-width="1.0"/>
<line x1="167.50" y1="244.40" x2="167.50" y2="265.00" stroke="#111" stroke-width="1.0"/>
<path d="M142.6 258.0 C150 259.0 156 260.5 160 262.4 L167 270.0 L231 270.0 L236 265.6" fill="none" stroke="#111" stroke-width="1.0"/>
<line x1="167.60" y1="265.50" x2="284.00" y2="265.50" stroke="#111" stroke-width="1.0"/>
<path d="M171.00 270.00 L172.00 272.60 L196.00 272.60 L197.00 270.00" fill="none" stroke="#111" stroke-width="1.0"/>
<line x1="168.00" y1="268.20" x2="200.00" y2="268.20" stroke="#555" stroke-width="1.6" stroke-dasharray="1.2 1"/>
<line x1="174.50" y1="257.00" x2="174.50" y2="269.00" stroke="#111" stroke-width="0.8" stroke-dasharray="3 1.5"/>
<line x1="193.50" y1="257.00" x2="193.50" y2="269.00" stroke="#111" stroke-width="0.8" stroke-dasharray="3 1.5"/>
<line x1="184.50" y1="254.00" x2="184.50" y2="305.00" stroke="#111" stroke-width="0.8"/>
<path d="M284.40 215.60 L280.00 230.00 L255.00 230.00 L255.00 254.40 L280.00 254.40 L284.40 268.00" fill="none" stroke="#111" stroke-width="1.0"/>
<path d="M255.00 230.00 L265.40 246.00 L284.00 246.00" fill="none" stroke="#111" stroke-width="1.0"/>
<line x1="265.50" y1="246.00" x2="265.50" y2="254.40" stroke="#111" stroke-width="1.0"/>
<line x1="280.50" y1="230.00" x2="280.50" y2="254.40" stroke="#111" stroke-width="0.8"/>
<line x1="284.50" y1="215.60" x2="284.50" y2="268.60" stroke="#111" stroke-width="1.0"/>
<line x1="283.50" y1="112.00" x2="283.50" y2="161.00" stroke="#111" stroke-width="1.0"/>
<line x1="283.60" y1="111.50" x2="293.80" y2="111.50" stroke="#111" stroke-width="1.0"/>
<line x1="283.60" y1="161.50" x2="300.00" y2="161.50" stroke="#111" stroke-width="1.0"/>
<line x1="293.80" y1="110.50" x2="367.00" y2="110.50" stroke="#111" stroke-width="1.0"/>
<line x1="293.50" y1="111.00" x2="293.50" y2="269.00" stroke="#111" stroke-width="1.0"/>
<line x1="284.40" y1="269.50" x2="368.00" y2="269.50" stroke="#111" stroke-width="1.0"/>
<line x1="300.50" y1="150.00" x2="300.50" y2="229.00" stroke="#111" stroke-width="1.0"/>
<line x1="285.00" y1="219.50" x2="300.00" y2="219.50" stroke="#111" stroke-width="1.0"/>
<line x1="300.00" y1="229.50" x2="312.00" y2="229.50" stroke="#111" stroke-width="1.0"/>
<line x1="300.00" y1="150.50" x2="315.60" y2="150.50" stroke="#111" stroke-width="1.0"/>
<line x1="315.50" y1="111.00" x2="315.50" y2="173.00" stroke="#111" stroke-width="1.0"/>
<line x1="315.60" y1="138.50" x2="334.40" y2="138.50" stroke="#111" stroke-width="1.0"/>
<line x1="334.50" y1="138.00" x2="334.50" y2="172.40" stroke="#111" stroke-width="1.0"/>
<path d="M300.00 175.60 L313.00 175.60 L316.00 172.40 L339.40 172.40" fill="none" stroke="#111" stroke-width="1.0"/>
<line x1="300.00" y1="178.50" x2="339.40" y2="178.50" stroke="#111" stroke-width="1.0"/>
<line x1="339.50" y1="172.40" x2="339.50" y2="225.60" stroke="#111" stroke-width="1.0"/>
<line x1="323.00" y1="225.50" x2="339.40" y2="225.50" stroke="#111" stroke-width="1.0"/>
<path d="M315 225.6 A4 4 0 0 1 323 225.6" fill="none" stroke="#111" stroke-width="1.0"/>
<path d="M312.00 225.60 L316.00 225.60 L316.00 266.00 L314.00 269.00" fill="none" stroke="#111" stroke-width="1.0"/>
<path d="M312.00 230.00 L312.00 234.40 L316.00 234.40" fill="none" stroke="#111" stroke-width="1.0"/>
<line x1="316.00" y1="244.50" x2="352.40" y2="244.50" stroke="#111" stroke-width="1.0"/>
<line x1="316.00" y1="249.50" x2="352.40" y2="249.50" stroke="#111" stroke-width="1.0"/>
<line x1="313.50" y1="113.00" x2="313.50" y2="129.00" stroke="#111" stroke-width="1.1" stroke-dasharray="2.5 1.5"/>
<line x1="335.50" y1="113.00" x2="335.50" y2="128.00" stroke="#111" stroke-width="1.1" stroke-dasharray="2.5 1.5"/>
<line x1="303.50" y1="251.00" x2="303.50" y2="269.00" stroke="#111" stroke-width="0.8" stroke-dasharray="3 1.5"/>
<line x1="346.50" y1="251.00" x2="346.50" y2="269.00" stroke="#111" stroke-width="0.8" stroke-dasharray="3 1.5"/>
<line x1="346.50" y1="111.00" x2="346.50" y2="130.00" stroke="#111" stroke-width="0.8"/>
<path d="M349.6 111.0 L349.6 130.0 L337.6 153.0 Q336.6 155.5 339 157.0 L348 158.0 Q349.6 158.0 349.6 160.0 L349.6 178.0" fill="none" stroke="#111" stroke-width="1.0"/>
<path d="M349.6 202.0 L349.6 218.0 Q349.6 220.6 346 221.0 Q342.6 221.6 343.6 224.0 L355 247.0 L355 269.0" fill="none" stroke="#111" stroke-width="1.0"/>
<line x1="352.50" y1="249.00" x2="352.50" y2="269.00" stroke="#111" stroke-width="0.8"/>
<path d="M339.40 180.00 L341.00 178.00 L371.60 178.00 L371.60 202.00 L341.00 202.00 L339.40 200.00" fill="none" stroke="#111" stroke-width="1.0"/>
<line x1="344.00" y1="184.50" x2="371.60" y2="184.50" stroke="#111" stroke-width="1.0"/>
<line x1="344.00" y1="196.50" x2="371.60" y2="196.50" stroke="#111" stroke-width="1.0"/>
<line x1="344.50" y1="178.00" x2="344.50" y2="202.00" stroke="#111" stroke-width="1.0"/>
<line x1="363.50" y1="178.00" x2="363.50" y2="202.00" stroke="#111" stroke-width="0.8"/>
<path d="M344.5 178.0 Q339 181.0 344.5 184.0 Q339 190.0 344.5 196.0 Q339 199.0 344.5 202.0" fill="none" stroke="#111" stroke-width="0.8"/>
<line x1="371.50" y1="202.00" x2="371.50" y2="332.00" stroke="#111" stroke-width="0.8"/>
<line x1="57.00" y1="191.50" x2="372.00" y2="191.50" stroke="#111" stroke-width="0.8" stroke-dasharray="22 3 3 3"/>
<line x1="323.50" y1="74.00" x2="323.50" y2="94.40" stroke="#111" stroke-width="0.8"/>
<path d="M323.50 94.40 L322.20 86.90 L324.80 86.90 Z" fill="#111"/>
<line x1="323.50" y1="102.00" x2="323.50" y2="140.00" stroke="#111" stroke-width="0.8" stroke-dasharray="14 3 3 3"/>
<line x1="325.50" y1="272.00" x2="325.50" y2="316.00" stroke="#111" stroke-width="0.8"/>
<path d="M325.50 272.00 L326.80 279.00 L324.20 279.00 Z" fill="#111"/>
<line x1="325.50" y1="231.00" x2="325.50" y2="269.00" stroke="#111" stroke-width="0.8" stroke-dasharray="14 3 3 3"/>
<text class="a" x="328.50" y="306.50" font-size="16" fill="#111" textLength="15.0" lengthAdjust="spacingAndGlyphs">W</text>
<line x1="362.50" y1="111.00" x2="362.50" y2="269.00" stroke="#111" stroke-width="0.8"/>
<path d="M362.50 111.00 L363.75 118.50 L361.25 118.50 Z" fill="#111"/>
<path d="M362.50 269.00 L361.25 261.50 L363.75 261.50 Z" fill="#111"/>
<text class="d" x="360.60" y="156.60" font-size="10.6" fill="#111" textLength="12.5" lengthAdjust="spacingAndGlyphs" transform="rotate(-90 360.60 156.60)">110</text>
<text class="d" x="360.60" y="236.00" font-size="10.6" fill="#111" textLength="12.5" lengthAdjust="spacingAndGlyphs" transform="rotate(-90 360.60 236.00)">110</text>
<line x1="106.00" y1="96.50" x2="251.00" y2="96.50" stroke="#111" stroke-width="0.8"/>
<path d="M120.00 96.50 L112.50 97.75 L112.50 95.25 Z" fill="#111"/>
<path d="M127.40 96.50 L134.90 95.25 L134.90 97.75 Z" fill="#111"/>
<path d="M251.00 96.50 L243.50 97.75 L243.50 95.25 Z" fill="#111"/>
<line x1="108.00" y1="110.50" x2="157.00" y2="110.50" stroke="#111" stroke-width="0.8"/>
<path d="M121.80 110.50 L114.30 111.75 L114.30 109.25 Z" fill="#111"/>
<path d="M127.60 110.50 L135.10 109.25 L135.10 111.75 Z" fill="#111"/>
<text class="d" x="143.00" y="108.60" font-size="10.6" fill="#111" textLength="12.0" lengthAdjust="spacingAndGlyphs">6.4</text>
<text class="d" x="182.00" y="94.60" font-size="10.6" fill="#111" textLength="13.5" lengthAdjust="spacingAndGlyphs">173</text>
<line x1="62.50" y1="157.00" x2="62.50" y2="289.00" stroke="#111" stroke-width="0.8"/>
<line x1="62.00" y1="284.50" x2="127.40" y2="284.50" stroke="#111" stroke-width="0.8"/>
<path d="M62.00 284.50 L69.50 283.25 L69.50 285.75 Z" fill="#111"/>
<path d="M127.40 284.50 L119.90 285.75 L119.90 283.25 Z" fill="#111"/>
<line x1="127.40" y1="284.50" x2="158.00" y2="284.50" stroke="#111" stroke-width="0.8"/>
<path d="M142.80 284.50 L150.30 283.25 L150.30 285.75 Z" fill="#111"/>
<line x1="142.50" y1="263.00" x2="142.50" y2="288.00" stroke="#111" stroke-width="0.8"/>
<text class="d" x="132.00" y="282.60" font-size="10.6" fill="#111" textLength="8.5" lengthAdjust="spacingAndGlyphs">21</text>
<line x1="127.40" y1="300.50" x2="184.00" y2="300.50" stroke="#111" stroke-width="0.8"/>
<path d="M127.40 300.50 L134.90 299.25 L134.90 301.75 Z" fill="#111"/>
<path d="M184.00 300.50 L176.50 301.75 L176.50 299.25 Z" fill="#111"/>
<text class="d" x="152.00" y="299.00" font-size="10.6" fill="#111" textLength="9.0" lengthAdjust="spacingAndGlyphs">78</text>
<line x1="127.40" y1="314.50" x2="325.00" y2="314.50" stroke="#111" stroke-width="0.8"/>
<path d="M127.40 314.50 L134.90 313.25 L134.90 315.75 Z" fill="#111"/>
<path d="M325.00 314.50 L317.50 315.75 L317.50 313.25 Z" fill="#111"/>
<text class="d" x="220.00" y="312.00" font-size="10.6" fill="#111" textLength="13.5" lengthAdjust="spacingAndGlyphs">275</text>
<line x1="127.40" y1="327.50" x2="371.60" y2="327.50" stroke="#111" stroke-width="0.8"/>
<path d="M127.40 327.50 L134.90 326.25 L134.90 328.75 Z" fill="#111"/>
<path d="M371.60 327.50 L364.10 328.75 L364.10 326.25 Z" fill="#111"/>
<text class="d" x="240.00" y="325.40" font-size="10.6" fill="#111" textLength="21.0" lengthAdjust="spacingAndGlyphs">337.5</text>
<line x1="251.20" y1="137.00" x2="221.20" y2="152.40" stroke="#111" stroke-width="0.8"/>
<text class="a" x="217.00" y="144.00" font-size="15" fill="#111">L</text>
<text class="a" x="176.20" y="163.00" font-size="12" fill="#111" textLength="96.0" lengthAdjust="spacingAndGlyphs">1 1/16-12UNF-2B</text>
<line x1="186.00" y1="272.00" x2="208.00" y2="284.00" stroke="#111" stroke-width="0.8"/>
<text class="a" x="211.00" y="292.00" font-size="12" fill="#111" textLength="96.0" lengthAdjust="spacingAndGlyphs">1 1/16-12UNF-2B</text>
<text class="a" x="189.50" y="297.00" font-size="15" fill="#111">L</text>
<text class="a" x="198.00" y="295.60" font-size="9.5" fill="#111" textLength="3.4" lengthAdjust="spacingAndGlyphs">1</text>
<line x1="40.40" y1="173.50" x2="120.00" y2="173.50" stroke="#111" stroke-width="0.8"/>
<path d="M117.40 175.60 L62.00 175.60 L62.00 207.40 L117.40 207.40" fill="none" stroke="#111" stroke-width="1.0"/>
<line x1="62.00" y1="157.00" x2="62.00" y2="212.00" stroke="#111" stroke-width="1.4"/>
<line x1="117.50" y1="173.00" x2="117.50" y2="207.40" stroke="#111" stroke-width="1.0"/>
<line x1="40.40" y1="207.50" x2="120.00" y2="207.50" stroke="#111" stroke-width="0.8"/>
<line x1="62.00" y1="178.50" x2="117.00" y2="178.50" stroke="#111" stroke-width="0.8" stroke-dasharray="3 1.5"/>
<path d="M62.00 186.00 L71.20 186.00 L71.20 197.60 L62.00 197.60" fill="none" stroke="#111" stroke-width="1.0"/>
<line x1="71.20" y1="186.50" x2="97.00" y2="186.50" stroke="#111" stroke-width="1.0" stroke-dasharray="2.5 1.2"/>
<line x1="71.20" y1="197.50" x2="97.00" y2="197.50" stroke="#111" stroke-width="1.0" stroke-dasharray="2.5 1.2"/>
<line x1="71.20" y1="188.50" x2="96.60" y2="188.50" stroke="#111" stroke-width="0.8"/>
<line x1="71.20" y1="195.50" x2="96.60" y2="195.50" stroke="#111" stroke-width="0.8"/>
<path d="M96.60 186.40 L100.20 191.00 L96.60 197.20" fill="none" stroke="#111" stroke-width="0.8"/>
<line x1="96.50" y1="186.40" x2="96.50" y2="197.20" stroke="#111" stroke-width="0.8"/>
<line x1="31.50" y1="126.40" x2="31.50" y2="256.40" stroke="#111" stroke-width="0.8"/>
<path d="M31.50 126.40 L32.75 133.90 L30.25 133.90 Z" fill="#111"/>
<path d="M31.50 256.40 L30.25 248.90 L32.75 248.90 Z" fill="#111"/>
<line x1="26.40" y1="126.50" x2="127.40" y2="126.50" stroke="#111" stroke-width="0.8"/>
<line x1="27.20" y1="256.50" x2="127.40" y2="256.50" stroke="#111" stroke-width="0.8"/>
<text class="d" x="29.20" y="206.00" font-size="10.6" fill="#111" textLength="26.0" lengthAdjust="spacingAndGlyphs" transform="rotate(-90 29.20 206.00)">ø152.4</text>
<line x1="45.50" y1="173.00" x2="45.50" y2="207.40" stroke="#111" stroke-width="0.8"/>
<path d="M45.50 175.60 L46.75 180.60 L44.25 180.60 Z" fill="#111"/>
<path d="M45.50 207.40 L44.25 202.40 L46.75 202.40 Z" fill="#111"/>
<text class="d" x="44.20" y="204.40" font-size="10.6" fill="#111" textLength="26.4" lengthAdjust="spacingAndGlyphs" transform="rotate(-90 44.20 204.40)">ø44.45</text>
<line x1="51.50" y1="143.60" x2="51.50" y2="212.00" stroke="#111" stroke-width="0.8"/>
<path d="M51.50 186.00 L50.25 181.00 L52.75 181.00 Z" fill="#111"/>
<path d="M51.50 197.60 L52.75 202.60 L50.25 202.60 Z" fill="#111"/>
<line x1="47.20" y1="186.50" x2="62.00" y2="186.50" stroke="#111" stroke-width="0.8"/>
<line x1="47.20" y1="197.50" x2="62.00" y2="197.50" stroke="#111" stroke-width="0.8"/>
<line x1="51.20" y1="143.50" x2="113.20" y2="143.50" stroke="#111" stroke-width="0.8"/>
<text class="d" x="52.80" y="139.20" font-size="10.6" fill="#111" textLength="60.4" lengthAdjust="spacingAndGlyphs">1/2-13UNC-2B</text>
<line x1="47.20" y1="161.50" x2="120.00" y2="161.50" stroke="#111" stroke-width="0.8"/>
<path d="M61.60 161.50 L54.10 162.75 L54.10 160.25 Z" fill="#111"/>
<path d="M62.80 161.50 L70.30 160.25 L70.30 162.75 Z" fill="#111"/>
<path d="M119.20 161.50 L111.70 162.75 L111.70 160.25 Z" fill="#111"/>
<text class="d" x="56.20" y="159.00" font-size="10.6" fill="#111" textLength="11.0" lengthAdjust="spacingAndGlyphs">1.5</text>
<text class="d" x="86.20" y="159.00" font-size="10.6" fill="#111" textLength="9.0" lengthAdjust="spacingAndGlyphs">65</text>
<line x1="62.00" y1="230.50" x2="91.60" y2="230.50" stroke="#111" stroke-width="0.8"/>
<path d="M62.00 230.50 L69.50 229.25 L69.50 231.75 Z" fill="#111"/>
<path d="M91.60 230.50 L84.10 231.75 L84.10 229.25 Z" fill="#111"/>
<line x1="91.50" y1="192.00" x2="91.50" y2="234.60" stroke="#111" stroke-width="0.8"/>
<text class="d" x="72.20" y="228.40" font-size="10.6" fill="#111" textLength="9.2" lengthAdjust="spacingAndGlyphs">32</text>
<line x1="62.00" y1="250.50" x2="119.60" y2="250.50" stroke="#111" stroke-width="0.8"/>
<path d="M62.00 250.50 L69.50 249.25 L69.50 251.75 Z" fill="#111"/>
<path d="M119.60 250.50 L112.10 251.75 L112.10 249.25 Z" fill="#111"/>
<text class="d" x="86.60" y="248.20" font-size="10.6" fill="#111" textLength="9.6" lengthAdjust="spacingAndGlyphs">67</text>
<text class="d" x="90.60" y="282.60" font-size="10.6" fill="#111" textLength="9.2" lengthAdjust="spacingAndGlyphs">75</text>
<text class="d" x="115.20" y="94.60" font-size="10.6" fill="#111" textLength="15.6" lengthAdjust="spacingAndGlyphs">12.7</text>
</g>
<g transform="translate(3,398)">
<line x1="379.00" y1="190.50" x2="585.00" y2="190.50" stroke="#111" stroke-width="0.8" stroke-dasharray="22 3 3 3"/>
<line x1="480.50" y1="99.00" x2="480.50" y2="297.00" stroke="#111" stroke-width="0.8" stroke-dasharray="22 3 3 3"/>
<circle cx="480.80" cy="190.00" r="65.60" fill="none" stroke="#111" stroke-width="1.0"/>
<circle cx="480.80" cy="190.00" r="48.60" fill="none" stroke="#111" stroke-width="1.0"/>
<circle cx="480.80" cy="190.00" r="47.00" fill="none" stroke="#111" stroke-width="0.8"/>
<circle cx="480.80" cy="190.00" r="26.50" fill="none" stroke="#111" stroke-width="1.0"/>
<circle cx="480.80" cy="190.00" r="15.80" fill="none" stroke="#111" stroke-width="1.0"/>
<circle cx="480.80" cy="190.00" r="5.00" fill="none" stroke="#111" stroke-width="1.2"/>
<line x1="475.50" y1="154.00" x2="475.50" y2="174.00" stroke="#111" stroke-width="0.8"/>
<line x1="485.50" y1="154.00" x2="485.50" y2="174.00" stroke="#111" stroke-width="0.8"/>
<line x1="475.60" y1="170.50" x2="485.80" y2="170.50" stroke="#111" stroke-width="1.0"/>
<line x1="461.00" y1="159.50" x2="500.00" y2="159.50" stroke="#111" stroke-width="0.8"/>
<path d="M475.60 159.50 L470.10 160.75 L470.10 158.25 Z" fill="#111"/>
<path d="M485.80 159.50 L491.30 158.25 L491.30 160.75 Z" fill="#111"/>
<path d="M409.30 127.60 L420.00 117.50 L542.00 116.20 L553.30 127.00 L553.30 249.00 L544.00 261.70 L422.00 262.30 L409.30 248.40 Z" fill="none" stroke="#111" stroke-width="1.0"/>
<circle cx="423.80" cy="132.20" r="6.40" fill="none" stroke="#111" stroke-width="1.0"/>
<circle cx="537.60" cy="131.40" r="6.40" fill="none" stroke="#111" stroke-width="1.0"/>
<circle cx="424.20" cy="246.60" r="6.40" fill="none" stroke="#111" stroke-width="1.0"/>
<circle cx="538.20" cy="246.20" r="6.40" fill="none" stroke="#111" stroke-width="1.0"/>
<line x1="533.60" y1="135.60" x2="541.00" y2="128.20" stroke="#111" stroke-width="1.2" stroke-dasharray="3 1.5"/>
<line x1="410.60" y1="131.50" x2="437.00" y2="131.50" stroke="#111" stroke-width="0.8"/>
<line x1="412.00" y1="246.50" x2="439.00" y2="246.50" stroke="#111" stroke-width="0.8"/>
<line x1="423.50" y1="230.00" x2="423.50" y2="259.00" stroke="#111" stroke-width="0.8"/>
<line x1="537.50" y1="232.40" x2="537.50" y2="259.00" stroke="#111" stroke-width="0.8"/>
<line x1="524.00" y1="246.50" x2="574.00" y2="246.50" stroke="#111" stroke-width="0.8"/>
<line x1="544.00" y1="131.50" x2="574.00" y2="131.50" stroke="#111" stroke-width="0.8"/>
<path d="M430 116.6 Q431.5 110.6 434 109.6 L454 111.0 L459 109.2 L501 109.2 L506 111.4 L523 111.4 Q529 112.4 533 116.6" fill="none" stroke="#111" stroke-width="1.0"/>
<line x1="436.00" y1="114.50" x2="527.00" y2="114.50" stroke="#111" stroke-width="0.8"/>
<line x1="454.00" y1="111.00" x2="457.00" y2="114.20" stroke="#111" stroke-width="0.8"/>
<line x1="506.00" y1="111.40" x2="509.00" y2="114.20" stroke="#111" stroke-width="0.8"/>
<path d="M430 262.0 Q433 265.6 437 266.6 L453 268.4 L506 268.4 L509 264.0" fill="none" stroke="#111" stroke-width="1.0"/>
<path d="M532 262.0 Q529 266.6 523 267.0 L509 267.0" fill="none" stroke="#111" stroke-width="1.0"/>
<line x1="436.00" y1="264.50" x2="526.00" y2="264.50" stroke="#111" stroke-width="0.8"/>
<line x1="453.00" y1="264.00" x2="456.00" y2="268.40" stroke="#111" stroke-width="0.8"/>
<path d="M468.00 268.40 L468.00 271.00 L495.00 271.00 L495.00 268.40" fill="none" stroke="#111" stroke-width="1.0"/>
<path d="M408.8 138.0 Q394 150.0 388.6 161.0 Q387.4 164.0 387.4 168.0 L387.4 208.0 Q387.6 211.0 391 213.6 L408.8 227.0" fill="none" stroke="#111" stroke-width="1.0"/>
<path d="M408.8 154.0 Q394 159.0 387.6 168.0" fill="none" stroke="#111" stroke-width="0.8"/>
<path d="M387.6 212.0 Q392 222.0 408.8 241.0" fill="none" stroke="#111" stroke-width="0.8"/>
<line x1="387.50" y1="208.00" x2="387.50" y2="297.00" stroke="#111" stroke-width="0.8"/>
<path d="M552.8 137.6 L571 156.5 Q575.4 161.0 575.4 168.0 L575.4 210.0 Q575.4 215.4 571 217.4 L552.8 226.0" fill="none" stroke="#111" stroke-width="1.0"/>
<path d="M540 139.4 L570 161.6 Q574.6 165.0 575.4 170.0" fill="none" stroke="#111" stroke-width="0.8"/>
<path d="M575.4 212.0 Q574 222.0 568 226.0 L552.8 240.0" fill="none" stroke="#111" stroke-width="0.8"/>
<line x1="408.50" y1="76.00" x2="408.50" y2="127.00" stroke="#111" stroke-width="0.8"/>
<line x1="552.50" y1="76.00" x2="552.50" y2="127.00" stroke="#111" stroke-width="0.8"/>
<line x1="408.80" y1="81.50" x2="552.80" y2="81.50" stroke="#111" stroke-width="0.8"/>
<path d="M408.80 81.50 L416.30 80.25 L416.30 82.75 Z" fill="#111"/>
<path d="M552.80 81.50 L545.30 82.75 L545.30 80.25 Z" fill="#111"/>
<line x1="423.50" y1="92.00" x2="423.50" y2="146.00" stroke="#111" stroke-width="0.8"/>
<line x1="537.50" y1="91.00" x2="537.50" y2="141.00" stroke="#111" stroke-width="0.8"/>
<line x1="423.80" y1="96.50" x2="537.60" y2="96.50" stroke="#111" stroke-width="0.8"/>
<path d="M423.80 96.50 L431.30 95.25 L431.30 97.75 Z" fill="#111"/>
<path d="M537.60 96.50 L530.10 97.75 L530.10 95.25 Z" fill="#111"/>
<text class="d" x="473.00" y="78.60" font-size="10.6" fill="#111" textLength="14.0" lengthAdjust="spacingAndGlyphs">200</text>
<text class="d" x="469.00" y="93.80" font-size="10.6" fill="#111" textLength="21.0" lengthAdjust="spacingAndGlyphs">161.6</text>
<line x1="434.00" y1="109.50" x2="450.00" y2="109.50" stroke="#111" stroke-width="0.8"/>
<line x1="434.00" y1="109.60" x2="414.40" y2="151.00" stroke="#111" stroke-width="0.8"/>
<path d="M426.60 125.60 L427.79 120.09 L430.06 121.14 Z" fill="#111"/>
<path d="M421.00 137.40 L419.81 142.91 L417.54 141.86 Z" fill="#111"/>
<text class="d" x="437.00" y="107.20" font-size="10.6" fill="#111" textLength="14.0" lengthAdjust="spacingAndGlyphs">ø20</text>
<line x1="542.00" y1="116.50" x2="597.00" y2="116.50" stroke="#111" stroke-width="0.8"/>
<line x1="544.00" y1="262.50" x2="598.00" y2="262.50" stroke="#111" stroke-width="0.8"/>
<line x1="569.50" y1="131.60" x2="569.50" y2="246.40" stroke="#111" stroke-width="0.8"/>
<path d="M569.50 131.60 L570.75 139.10 L568.25 139.10 Z" fill="#111"/>
<path d="M569.50 246.40 L568.25 238.90 L570.75 238.90 Z" fill="#111"/>
<line x1="593.50" y1="116.60" x2="593.50" y2="262.00" stroke="#111" stroke-width="0.8"/>
<path d="M593.50 116.60 L594.75 124.10 L592.25 124.10 Z" fill="#111"/>
<path d="M593.50 262.00 L592.25 254.50 L594.75 254.50 Z" fill="#111"/>
<text class="d" x="567.60" y="200.00" font-size="10.6" fill="#111" textLength="21.5" lengthAdjust="spacingAndGlyphs" transform="rotate(-90 567.60 200.00)">161.6</text>
<text class="d" x="591.00" y="195.60" font-size="10.6" fill="#111" textLength="13.8" lengthAdjust="spacingAndGlyphs" transform="rotate(-90 591.00 195.60)">200</text>
<line x1="401.50" y1="190.00" x2="401.50" y2="269.00" stroke="#111" stroke-width="0.8"/>
<path d="M401.50 190.00 L402.75 197.50 L400.25 197.50 Z" fill="#111"/>
<path d="M401.50 269.00 L400.25 261.50 L402.75 261.50 Z" fill="#111"/>
<line x1="397.00" y1="269.50" x2="456.00" y2="269.50" stroke="#111" stroke-width="0.8"/>
<text class="d" x="399.60" y="252.00" font-size="10.6" fill="#111" textLength="13.0" lengthAdjust="spacingAndGlyphs" transform="rotate(-90 399.60 252.00)">108</text>
<line x1="387.40" y1="292.50" x2="480.80" y2="292.50" stroke="#111" stroke-width="0.8"/>
<path d="M387.40 292.50 L394.90 291.25 L394.90 293.75 Z" fill="#111"/>
<path d="M480.80 292.50 L473.30 293.75 L473.30 291.25 Z" fill="#111"/>
<text class="d" x="428.60" y="290.20" font-size="10.6" fill="#111" textLength="13.0" lengthAdjust="spacingAndGlyphs">131</text>
<text class="a" x="487.00" y="291.00" font-size="15" fill="#111">L</text>
<text class="a" x="495.60" y="289.60" font-size="9.5" fill="#111" textLength="3.4" lengthAdjust="spacingAndGlyphs">1</text>
<line x1="446.00" y1="170.50" x2="476.00" y2="170.50" stroke="#111" stroke-width="0.8"/>
<line x1="446.00" y1="205.50" x2="482.00" y2="205.50" stroke="#111" stroke-width="0.8"/>
<line x1="449.50" y1="170.00" x2="449.50" y2="205.60" stroke="#111" stroke-width="0.8"/>
<path d="M449.50 170.00 L450.75 175.50 L448.25 175.50 Z" fill="#111"/>
<path d="M449.50 205.60 L448.25 200.10 L450.75 200.10 Z" fill="#111"/>
<text class="d" x="448.00" y="196.40" font-size="10.6" fill="#111" textLength="17.0" lengthAdjust="spacingAndGlyphs" transform="rotate(-90 448.00 196.40)">49.3</text>
<text class="d" x="470.00" y="157.00" font-size="10.6" fill="#111" textLength="20.0" lengthAdjust="spacingAndGlyphs">11.11</text>
<line x1="480.80" y1="190.00" x2="498.60" y2="207.80" stroke="#111" stroke-width="0.8"/>
<line x1="496.80" y1="206.00" x2="547.40" y2="151.00" stroke="#111" stroke-width="0.8"/>
<path d="M496.80 206.00 L499.94 200.74 L501.78 202.43 Z" fill="#111"/>
<path d="M547.40 151.00 L544.26 156.26 L542.42 154.57 Z" fill="#111"/>
<line x1="544.40" y1="147.40" x2="548.40" y2="151.40" stroke="#111" stroke-width="0.8"/>
<text class="d" x="506.60" y="186.00" font-size="10.6" fill="#111" textLength="23.0" lengthAdjust="spacingAndGlyphs" transform="rotate(-45 506.60 186.00)">118.5</text>
<line x1="516.00" y1="139.60" x2="527.60" y2="128.00" stroke="#111" stroke-width="1.6"/>
<line x1="532.60" y1="148.80" x2="541.00" y2="142.00" stroke="#111" stroke-width="1.3"/>
<line x1="522.00" y1="147.40" x2="527.60" y2="142.00" stroke="#111" stroke-width="0.8"/>
<line x1="540.00" y1="139.40" x2="534.00" y2="146.00" stroke="#111" stroke-width="0.8"/>
<line x1="526.00" y1="125.00" x2="531.00" y2="131.00" stroke="#111" stroke-width="0.8" stroke-dasharray="2 1.5"/>
<line x1="527.00" y1="134.00" x2="533.00" y2="140.00" stroke="#111" stroke-width="0.8" stroke-dasharray="2 1.5"/>
<text class="a" x="514.60" y="134.60" font-size="13.5" fill="#111">L</text>
</g>
<g transform="translate(3,398)">
<text class="a" x="625.80" y="36.40" font-size="15.6" fill="#111" textLength="47.4" lengthAdjust="spacingAndGlyphs">View V</text>
<path d="M622.4 50.0 L669 50.0 Q677 52.0 679.2 68.0 L679.2 103.0 Q677.6 118.0 668 121.4 L622.4 121.4 Z" fill="none" stroke="#111" stroke-width="1.0"/>
<circle cx="653.00" cy="85.00" r="11.60" fill="none" stroke="#111" stroke-width="1.0"/>
<line x1="653.50" y1="44.00" x2="653.50" y2="123.00" stroke="#111" stroke-width="0.8" stroke-dasharray="14 3 3 3"/>
<line x1="616.00" y1="85.50" x2="686.00" y2="85.50" stroke="#111" stroke-width="0.8" stroke-dasharray="14 3 3 3"/>
<circle cx="641.60" cy="61.40" r="4.80" fill="none" stroke="#111" stroke-width="1.0"/>
<line x1="639.00" y1="61.50" x2="644.20" y2="61.50" stroke="#111" stroke-width="0.8"/>
<line x1="641.50" y1="58.80" x2="641.50" y2="64.00" stroke="#111" stroke-width="0.8"/>
<circle cx="641.60" cy="109.60" r="4.80" fill="none" stroke="#111" stroke-width="1.0"/>
<line x1="639.00" y1="109.50" x2="644.20" y2="109.50" stroke="#111" stroke-width="0.8"/>
<line x1="641.50" y1="107.00" x2="641.50" y2="112.20" stroke="#111" stroke-width="0.8"/>
<circle cx="664.40" cy="61.40" r="4.80" fill="none" stroke="#111" stroke-width="1.0"/>
<line x1="661.80" y1="61.50" x2="667.00" y2="61.50" stroke="#111" stroke-width="0.8"/>
<line x1="664.50" y1="58.80" x2="664.50" y2="64.00" stroke="#111" stroke-width="0.8"/>
<circle cx="664.40" cy="109.60" r="4.80" fill="none" stroke="#111" stroke-width="1.0"/>
<line x1="661.80" y1="109.50" x2="667.00" y2="109.50" stroke="#111" stroke-width="0.8"/>
<line x1="664.50" y1="107.00" x2="664.50" y2="112.20" stroke="#111" stroke-width="0.8"/>
<text class="d" x="623.60" y="71.60" font-size="10.6" fill="#111" textLength="14.4" lengthAdjust="spacingAndGlyphs">ø32</text>
<line x1="623.60" y1="73.50" x2="638.00" y2="73.50" stroke="#111" stroke-width="0.8"/>
<line x1="638.00" y1="73.00" x2="660.00" y2="91.00" stroke="#111" stroke-width="0.8"/>
<line x1="646.00" y1="79.40" x2="660.00" y2="91.00" stroke="#111" stroke-width="1.4" stroke-dasharray="6 2"/>
<text class="a" x="666.60" y="86.00" font-size="14" fill="#111">B</text>
<line x1="669.20" y1="61.50" x2="704.00" y2="61.50" stroke="#111" stroke-width="0.8"/>
<line x1="669.20" y1="109.50" x2="704.00" y2="109.50" stroke="#111" stroke-width="0.8"/>
<line x1="699.50" y1="61.40" x2="699.50" y2="109.60" stroke="#111" stroke-width="0.8"/>
<path d="M699.50 61.40 L700.75 68.90 L698.25 68.90 Z" fill="#111"/>
<path d="M699.50 109.60 L698.25 102.10 L700.75 102.10 Z" fill="#111"/>
<text class="d" x="697.60" y="93.00" font-size="10.6" fill="#111" textLength="15.6" lengthAdjust="spacingAndGlyphs" transform="rotate(-90 697.60 93.00)">66.7</text>
<line x1="641.50" y1="114.40" x2="641.50" y2="140.00" stroke="#111" stroke-width="0.8"/>
<line x1="664.50" y1="114.40" x2="664.50" y2="140.00" stroke="#111" stroke-width="0.8"/>
<line x1="641.60" y1="134.50" x2="664.40" y2="134.50" stroke="#111" stroke-width="0.8"/>
<path d="M641.60 134.50 L647.10 133.25 L647.10 135.75 Z" fill="#111"/>
<path d="M664.40 134.50 L658.90 135.75 L658.90 133.25 Z" fill="#111"/>
<text class="d" x="645.00" y="133.00" font-size="10.6" fill="#111" textLength="16.6" lengthAdjust="spacingAndGlyphs">31.8</text>
<line x1="655.00" y1="92.00" x2="664.40" y2="109.60" stroke="#111" stroke-width="1.4" stroke-dasharray="5 2"/>
<line x1="664.40" y1="109.60" x2="674.00" y2="136.40" stroke="#111" stroke-width="0.8"/>
<line x1="674.00" y1="136.50" x2="739.00" y2="136.50" stroke="#111" stroke-width="0.8"/>
<text class="d" x="676.00" y="132.40" font-size="10.6" fill="#111" textLength="63.0" lengthAdjust="spacingAndGlyphs">1/2-13 UNC-2B</text>
<text class="a" x="684.00" y="153.00" font-size="12" fill="#111" textLength="42.0" lengthAdjust="spacingAndGlyphs">deep 24</text>
</g>
<g transform="translate(3,398)">
<text class="a" x="626.60" y="157.20" font-size="15.6" fill="#111" textLength="52.0" lengthAdjust="spacingAndGlyphs">View W</text>
<path d="M669.6 200.6 L669.6 164.0 Q668 162.4 666 162.5 Q632 171.0 622.5 200.0 Q618.6 212.0 618.4 240.0 L618.4 272.0 Q619 286.0 625 295.0 Q633 306.0 652.5 313.7 L670.5 319.3" fill="none" stroke="#111" stroke-width="1.0"/>
<line x1="670.50" y1="285.60" x2="670.50" y2="319.30" stroke="#111" stroke-width="1.0"/>
<path d="M623 200.6 L676 200.6 Q681.6 203.0 683.2 211.0 L683.2 268.0 L679 285.6 L623 285.6 Z" fill="none" stroke="#111" stroke-width="1.0"/>
<circle cx="654.60" cy="242.80" r="22.20" fill="none" stroke="#111" stroke-width="1.0"/>
<line x1="654.50" y1="196.00" x2="654.50" y2="289.00" stroke="#111" stroke-width="0.8" stroke-dasharray="14 3 3 3"/>
<line x1="615.00" y1="242.50" x2="689.00" y2="242.50" stroke="#111" stroke-width="0.8" stroke-dasharray="14 3 3 3"/>
<circle cx="635.80" cy="210.40" r="3.90" fill="none" stroke="#111" stroke-width="1.0"/>
<line x1="633.40" y1="210.50" x2="638.20" y2="210.50" stroke="#111" stroke-width="0.8"/>
<line x1="635.50" y1="208.00" x2="635.50" y2="212.80" stroke="#111" stroke-width="0.8"/>
<circle cx="635.80" cy="274.40" r="3.90" fill="none" stroke="#111" stroke-width="1.0"/>
<line x1="633.40" y1="274.50" x2="638.20" y2="274.50" stroke="#111" stroke-width="0.8"/>
<line x1="635.50" y1="272.00" x2="635.50" y2="276.80" stroke="#111" stroke-width="0.8"/>
<circle cx="672.60" cy="210.40" r="3.90" fill="none" stroke="#111" stroke-width="1.0"/>
<line x1="670.20" y1="210.50" x2="675.00" y2="210.50" stroke="#111" stroke-width="0.8"/>
<line x1="672.50" y1="208.00" x2="672.50" y2="212.80" stroke="#111" stroke-width="0.8"/>
<circle cx="672.60" cy="274.40" r="3.90" fill="none" stroke="#111" stroke-width="1.0"/>
<line x1="670.20" y1="274.50" x2="675.00" y2="274.50" stroke="#111" stroke-width="0.8"/>
<line x1="672.50" y1="272.00" x2="672.50" y2="276.80" stroke="#111" stroke-width="0.8"/>
<line x1="633.60" y1="235.80" x2="675.60" y2="249.60" stroke="#111" stroke-width="0.8"/>
<path d="M633.60 235.80 L639.69 236.49 L638.91 238.86 Z" fill="#111"/>
<path d="M675.60 249.60 L669.51 248.91 L670.29 246.54 Z" fill="#111"/>
<text class="d" x="641.60" y="236.60" font-size="10.6" fill="#111" textLength="13.6" lengthAdjust="spacingAndGlyphs" transform="rotate(18 641.60 236.60)">ø63</text>
<text class="a" x="672.60" y="238.20" font-size="15.6" fill="#111">S</text>
<line x1="607.60" y1="210.50" x2="632.00" y2="210.50" stroke="#111" stroke-width="0.8"/>
<line x1="607.60" y1="274.50" x2="632.00" y2="274.50" stroke="#111" stroke-width="0.8"/>
<line x1="611.50" y1="210.40" x2="611.50" y2="274.40" stroke="#111" stroke-width="0.8"/>
<path d="M611.50 210.40 L612.75 217.90 L610.25 217.90 Z" fill="#111"/>
<path d="M611.50 274.40 L610.25 266.90 L612.75 266.90 Z" fill="#111"/>
<text class="d" x="610.00" y="251.00" font-size="10.6" fill="#111" textLength="16.4" lengthAdjust="spacingAndGlyphs" transform="rotate(-90 610.00 251.00)">88.9</text>
<line x1="635.50" y1="279.00" x2="635.50" y2="332.00" stroke="#111" stroke-width="0.8"/>
<line x1="672.50" y1="279.00" x2="672.50" y2="332.00" stroke="#111" stroke-width="0.8"/>
<line x1="635.80" y1="327.50" x2="672.60" y2="327.50" stroke="#111" stroke-width="0.8"/>
<path d="M635.80 327.50 L643.30 326.25 L643.30 328.75 Z" fill="#111"/>
<path d="M672.60 327.50 L665.10 328.75 L665.10 326.25 Z" fill="#111"/>
<text class="d" x="646.00" y="325.60" font-size="10.6" fill="#111" textLength="18.0" lengthAdjust="spacingAndGlyphs">50.8</text>
<line x1="641.00" y1="257.00" x2="635.80" y2="274.40" stroke="#111" stroke-width="1.3" stroke-dasharray="5 2"/>
<line x1="635.80" y1="274.40" x2="632.00" y2="313.60" stroke="#111" stroke-width="0.8"/>
<line x1="568.00" y1="313.50" x2="632.00" y2="313.50" stroke="#111" stroke-width="0.8"/>
<text class="d" x="568.40" y="308.80" font-size="10.6" fill="#111" textLength="61.0" lengthAdjust="spacingAndGlyphs">1/2-13 UNC-2B</text>
<text class="a" x="576.00" y="329.00" font-size="12" fill="#111" textLength="43.5" lengthAdjust="spacingAndGlyphs">deep 24</text>
<path d="M670.00 168.60 L702.00 168.60 L702.00 192.60 L670.00 192.60 Z" fill="none" stroke="#111" stroke-width="1.0"/>
<line x1="675.00" y1="174.50" x2="702.00" y2="174.50" stroke="#111" stroke-width="1.0"/>
<line x1="675.00" y1="186.50" x2="702.00" y2="186.50" stroke="#111" stroke-width="1.0"/>
<line x1="675.50" y1="168.60" x2="675.50" y2="192.60" stroke="#111" stroke-width="0.8"/>
<path d="M675 168.6 Q671 171.1 675 173.6 Q671 180.6 675 187.2 Q671 189.9 675 192.6" fill="none" stroke="#111" stroke-width="0.8"/>
<line x1="660.00" y1="180.50" x2="704.00" y2="180.50" stroke="#111" stroke-width="0.8" stroke-dasharray="14 3 3 3"/>
<path d="M670.00 292.80 L702.00 292.80 L702.00 316.80 L670.00 316.80 Z" fill="none" stroke="#111" stroke-width="1.0"/>
<line x1="675.00" y1="298.50" x2="702.00" y2="298.50" stroke="#111" stroke-width="1.0"/>
<line x1="675.00" y1="310.50" x2="702.00" y2="310.50" stroke="#111" stroke-width="1.0"/>
<line x1="675.50" y1="292.80" x2="675.50" y2="316.80" stroke="#111" stroke-width="0.8"/>
<path d="M675 292.8 Q671 295.3 675 297.8 Q671 304.8 675 311.4 Q671 314.1 675 316.8" fill="none" stroke="#111" stroke-width="0.8"/>
<line x1="660.00" y1="304.50" x2="704.00" y2="304.50" stroke="#111" stroke-width="0.8" stroke-dasharray="14 3 3 3"/>
<path d="M675 185.0 Q684 200.0 690 216.0" fill="none" stroke="#111" stroke-width="0.8"/>
<path d="M676 306.0 Q686 280.0 690 261.0" fill="none" stroke="#111" stroke-width="0.8"/>
<text class="a" x="712.00" y="190.60" font-size="16" fill="#111" textLength="33.0" lengthAdjust="spacingAndGlyphs">Max.</text>
<text class="a" x="711.00" y="314.00" font-size="16" fill="#111" textLength="27.6" lengthAdjust="spacingAndGlyphs">Min.</text>
<text class="c" x="690.00" y="227.40" font-size="14.6" fill="#222" textLength="106.0" lengthAdjust="spacingAndGlyphs" font-weight="500">机械排量限制器</text>
<text x="691.6" y="244.8" font-size="15" textLength="104" lengthAdjust="spacingAndGlyphs" fill="#333" style="font-family:'Liberation Serif',serif">mech. displacement</text>
<text x="691.6" y="263.6" font-size="15" textLength="40.6" lengthAdjust="spacingAndGlyphs" fill="#333" style="font-family:'Liberation Serif',serif">limiter</text>
</g>
<text class="a" x="148.40" y="816.20" font-size="15" fill="#111" textLength="30.0" lengthAdjust="spacingAndGlyphs">S 轴</text>
<text class="a" x="193.40" y="816.20" font-size="15" fill="#111" textLength="50.0" lengthAdjust="spacingAndGlyphs">Shaft S</text>
<text class="a" x="261.40" y="860.00" font-size="15" fill="#111" textLength="72.4" lengthAdjust="spacingAndGlyphs">压力角 30°</text>
<text class="a" x="261.40" y="880.40" font-size="15" fill="#111" textLength="33.4" lengthAdjust="spacingAndGlyphs">13 齿</text>
<text class="a" x="261.40" y="901.40" font-size="15" fill="#111" textLength="63.0" lengthAdjust="spacingAndGlyphs">8/16 节距</text>
<text class="a" x="261.40" y="939.40" font-size="15" fill="#111" textLength="131.0" lengthAdjust="spacingAndGlyphs">Pressure angle 30°</text>
<text class="a" x="261.40" y="958.40" font-size="15" fill="#111" textLength="25.0" lengthAdjust="spacingAndGlyphs">13T</text>
<text class="a" x="261.40" y="978.00" font-size="15" fill="#111" textLength="55.0" lengthAdjust="spacingAndGlyphs">8/16 DP</text>
<path d="M223.60 840.40 L237.60 840.40 L237.60 985.00 L223.60 985.00 Z" fill="none" stroke="#111" stroke-width="1.0"/>
<line x1="223.60" y1="851.50" x2="237.60" y2="851.50" stroke="#111" stroke-width="0.8"/>
<line x1="223.60" y1="974.50" x2="237.60" y2="974.50" stroke="#111" stroke-width="0.8"/>
<path d="M223.60 847.40 L216.00 847.40 L216.00 978.00 L223.60 978.00" fill="none" stroke="#111" stroke-width="1.0"/>
<line x1="219.60" y1="862.00" x2="219.60" y2="962.00" stroke="#444" stroke-width="1.4" stroke-dasharray="2 1.4"/>
<line x1="217.60" y1="894.40" x2="217.60" y2="930.00" stroke="#111" stroke-width="2.4"/>
<line x1="223.50" y1="985.00" x2="223.50" y2="1003.00" stroke="#111" stroke-width="0.8"/>
<line x1="219.50" y1="978.00" x2="219.50" y2="986.00" stroke="#111" stroke-width="0.8"/>
<line x1="219.00" y1="894.50" x2="230.00" y2="894.50" stroke="#111" stroke-width="0.8" stroke-dasharray="4 2"/>
<line x1="219.00" y1="930.50" x2="230.00" y2="930.50" stroke="#111" stroke-width="0.8" stroke-dasharray="4 2"/>
<line x1="170.00" y1="898.20" x2="208.00" y2="898.20" stroke="#3a3a3a" stroke-width="2.6"/>
<line x1="170.00" y1="927.20" x2="208.00" y2="927.20" stroke="#3a3a3a" stroke-width="2.6"/>
<line x1="170.50" y1="897.00" x2="170.50" y2="1003.00" stroke="#111" stroke-width="0.8"/>
<line x1="170.50" y1="897.00" x2="170.50" y2="928.40" stroke="#111" stroke-width="1.0"/>
<line x1="208.50" y1="897.00" x2="208.50" y2="928.40" stroke="#111" stroke-width="1.0"/>
<path d="M208.00 898.40 L217.00 898.40 L217.00 927.00 L208.00 927.00" fill="none" stroke="#111" stroke-width="1.0"/>
<line x1="186.00" y1="898.50" x2="196.00" y2="898.50" stroke="#fff" stroke-width="0.8" stroke-dasharray="2 3"/>
<line x1="186.00" y1="927.50" x2="196.00" y2="927.50" stroke="#fff" stroke-width="0.8" stroke-dasharray="2 3"/>
<path d="M170 903.2 L192 903.2 Q202 905 202 912.4 Q202 920 192 921.4 L170 921.4" fill="none" stroke="#111" stroke-width="1.0"/>
<path d="M171 904.6 L191.6 904.6 Q200.4 906 200.4 912.4 Q200.4 919 191.6 920 L171 920" fill="none" stroke="#555" stroke-width="1.7" stroke-dasharray="1.2 1"/>
<path d="M172 906.2 L190.6 906.2 Q198.8 907.4 198.8 912.4 Q198.8 917.6 190.6 918.6 L172 918.6" fill="none" stroke="#111" stroke-width="0.8"/>
<path d="M172.00 903.60 L172.00 921.40" fill="none" stroke="#111" stroke-width="0.8"/>
<path d="M177.00 908.40 L193.00 908.40 L197.60 912.60 L193.00 917.00 L177.00 917.00 L177.00 908.40" fill="none" stroke="#111" stroke-width="0.8"/>
<line x1="193.50" y1="908.40" x2="193.50" y2="917.00" stroke="#111" stroke-width="0.8"/>
<line x1="161.00" y1="912.50" x2="250.00" y2="912.50" stroke="#111" stroke-width="0.8" stroke-dasharray="14 3 3 3"/>
<line x1="148.50" y1="883.00" x2="148.50" y2="943.00" stroke="#111" stroke-width="0.8"/>
<path d="M148.50 897.00 L147.25 891.50 L149.75 891.50 Z" fill="#111"/>
<path d="M148.50 928.40 L149.75 933.90 L147.25 933.90 Z" fill="#111"/>
<line x1="143.00" y1="897.50" x2="170.00" y2="897.50" stroke="#111" stroke-width="0.8"/>
<line x1="143.00" y1="928.50" x2="170.00" y2="928.50" stroke="#111" stroke-width="0.8"/>
<text class="d" x="143.00" y="928.00" font-size="10.6" fill="#111" textLength="30.0" lengthAdjust="spacingAndGlyphs" transform="rotate(-90 143.00 928.00)">ø1 3/4"</text>
<text class="d" x="160.00" y="944.00" font-size="10.6" fill="#111" textLength="62.0" lengthAdjust="spacingAndGlyphs" transform="rotate(-90 160.00 944.00)">5/8-11UNC-2B</text>
<line x1="165.50" y1="894.00" x2="165.50" y2="932.00" stroke="#111" stroke-width="0.8"/>
<path d="M165.50 903.60 L164.25 898.60 L166.75 898.60 Z" fill="#111"/>
<path d="M165.50 921.40 L166.75 926.40 L164.25 926.40 Z" fill="#111"/>
<line x1="162.00" y1="903.50" x2="170.00" y2="903.50" stroke="#111" stroke-width="0.8"/>
<line x1="162.00" y1="921.50" x2="170.00" y2="921.50" stroke="#111" stroke-width="0.8"/>
<line x1="170.00" y1="945.50" x2="192.40" y2="945.50" stroke="#111" stroke-width="0.8"/>
<path d="M170.00 945.50 L175.50 944.25 L175.50 946.75 Z" fill="#111"/>
<path d="M192.40 945.50 L186.90 946.75 L186.90 944.25 Z" fill="#111"/>
<line x1="192.50" y1="920.00" x2="192.50" y2="949.00" stroke="#111" stroke-width="0.8"/>
<text class="d" x="177.00" y="942.80" font-size="10.6" fill="#111" textLength="9.4" lengthAdjust="spacingAndGlyphs">36</text>
<line x1="170.00" y1="961.50" x2="208.00" y2="961.50" stroke="#111" stroke-width="0.8"/>
<path d="M170.00 961.50 L177.50 960.25 L177.50 962.75 Z" fill="#111"/>
<path d="M208.00 961.50 L200.50 962.75 L200.50 960.25 Z" fill="#111"/>
<line x1="208.50" y1="928.40" x2="208.50" y2="965.00" stroke="#111" stroke-width="0.8"/>
<text class="d" x="184.40" y="958.60" font-size="10.6" fill="#111" textLength="9.6" lengthAdjust="spacingAndGlyphs">55</text>
<line x1="170.00" y1="980.50" x2="219.00" y2="980.50" stroke="#111" stroke-width="0.8"/>
<path d="M170.00 980.50 L177.50 979.25 L177.50 981.75 Z" fill="#111"/>
<path d="M219.00 980.50 L211.50 981.75 L211.50 979.25 Z" fill="#111"/>
<text class="d" x="189.60" y="978.40" font-size="10.6" fill="#111" textLength="9.2" lengthAdjust="spacingAndGlyphs">67</text>
<line x1="170.00" y1="999.50" x2="223.60" y2="999.50" stroke="#111" stroke-width="0.8"/>
<path d="M170.00 999.50 L177.50 998.25 L177.50 1000.75 Z" fill="#111"/>
<path d="M223.60 999.50 L216.10 1000.75 L216.10 998.25 Z" fill="#111"/>
<text class="d" x="193.00" y="996.40" font-size="10.6" fill="#111" textLength="9.4" lengthAdjust="spacingAndGlyphs">75</text>
</svg>
</body></html>
